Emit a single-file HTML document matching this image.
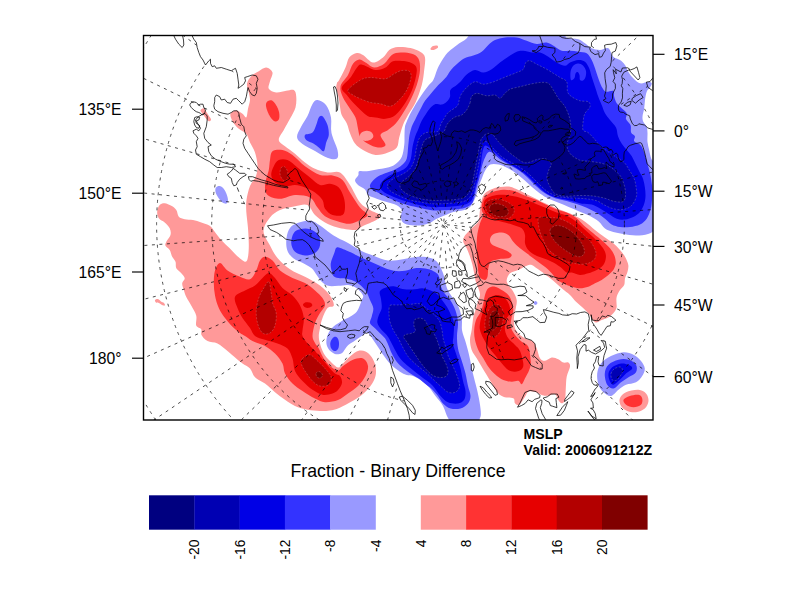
<!DOCTYPE html>
<html><head><meta charset="utf-8"><title>MSLP Fraction - Binary Difference</title>
<style>
html,body{margin:0;padding:0;background:#fff;}
body{width:792px;height:612px;position:relative;overflow:hidden;font-family:"Liberation Sans",sans-serif;}
</style></head><body>
<svg width="792" height="612" viewBox="0 0 792 612" style="position:absolute;left:0;top:0">
<defs><clipPath id="fc"><rect x="143.5" y="35.5" width="509.5" height="384.5"/></clipPath></defs>
<rect x="0" y="0" width="792" height="612" fill="#fff"/>
<g clip-path="url(#fc)">
<g stroke="none">
<path fill="#ff9999" d="M266.2 67.5C268.5 67.7 271.9 70.2 272.5 72.5C273.1 74.8 270.6 78.5 270 81.2C269.4 84 267.7 86.9 268.8 88.8C269.8 90.6 273.3 92.2 276.2 92.5C279.2 92.8 283.3 91.2 286.2 90.8C289.2 90.3 292.1 89.1 293.8 90C295.4 90.9 296 93.3 296.2 96.2C296.5 99.2 296.5 103.8 295.5 107.5C294.5 111.2 292 115 290 118.8C288 122.5 285.6 126.5 283.8 130C281.9 133.5 278.5 137.3 278.8 140C279 142.7 282.3 144 285 146.2C287.7 148.5 291.7 151 295 153.8C298.3 156.5 301.7 160 305 162.5C308.3 165 311.2 167.1 315 168.8C318.8 170.4 323.3 171.9 327.5 172.5C331.7 173.1 336.2 170.4 340 172.5C343.8 174.6 346.7 180 350 185C353.3 190 356.7 198.3 360 202.5C363.3 206.7 366.7 207.9 370 210C373.3 212.1 379 213.3 380 215C381 216.7 379.2 218.1 376.2 220C373.3 221.9 366 224.6 362.5 226.2C359 227.9 359.2 229.8 355 230C350.8 230.2 342.5 228.8 337.5 227.5C332.5 226.2 328.8 224.6 325 222.5C321.2 220.4 317.9 217.9 315 215C312.1 212.1 310.8 206.5 307.5 205C304.2 203.5 299.6 205.4 295 206.2C290.4 207.1 284.2 208.1 280 210C275.8 211.9 272.8 214 270 217.5C267.2 221 263.5 226.3 263.5 231C263.5 235.7 267.7 241 270 245.5C272.3 250 274.2 254 277.5 258C280.8 262 285.4 266.1 290 269.2C294.6 272.4 300 274 305 276.8C310 279.5 315.8 282.4 320 285.5C324.2 288.6 327.7 292.2 330 295.5C332.3 298.8 334.2 303.4 333.8 305.5C333.3 307.6 329.4 305.9 327.5 308C325.6 310.1 323.8 314.7 322.5 318C321.2 321.3 320.6 325 320 328C319.4 331 318.8 333.4 318.8 336C318.8 338.6 319.2 340.6 320 343.5C320.8 346.4 322.1 350.6 323.8 353.5C325.4 356.4 327.6 358.7 330 361C332.4 363.3 335.8 367.1 338 367.5C340.2 367.9 340.9 365.4 343 363.5C345.1 361.6 348 358.1 350.5 356C353 353.9 355.5 351.8 358 351C360.5 350.2 363.2 350.5 365.5 351.5C367.8 352.5 370.1 354.8 371.8 357.2C373.4 359.7 374.9 362.9 375.5 366C376.1 369.1 376.3 372.7 375.5 376C374.7 379.3 373 382.7 370.5 386C368 389.3 364.2 393.1 360.5 396C356.8 398.9 351.8 401.4 348 403.5C344.2 405.6 341 407.3 338 408.5C335 409.7 333 410.1 330 410.5C327 410.9 323.8 411.1 320 411C316.2 410.9 311.7 410.6 307.5 409.8C303.3 408.9 298.8 407.7 295 406C291.2 404.3 288.3 402 285 399.8C281.7 397.5 278.3 395 275 392.2C271.7 389.5 268.3 386 265 383.5C261.7 381 257.5 379.8 255 377.2C252.5 374.8 252.1 370.8 250 368.5C247.9 366.2 244.8 365.2 242.5 363.5C240.2 361.8 238.8 360.6 236.2 358.5C233.8 356.4 230.6 353.5 227.5 351C224.4 348.5 220.8 345.2 217.5 343.5C214.2 341.8 210.2 342.4 207.5 341C204.8 339.6 202.5 337 201.5 335C200.5 333 202.1 330.8 201.2 329.2C200.4 327.7 197.1 327.8 196.2 325.5C195.4 323.2 197.1 318.8 196.2 315.5C195.4 312.2 192.9 308.6 191.2 305.5C189.6 302.4 187.5 299.6 186.3 297C185.1 294.4 184.5 292.3 183.8 290C183.1 287.7 182 285.2 182.2 283.3C182.3 281.4 184.8 280 184.7 278.3C184.5 276.6 182.7 275 181.3 273.3C179.9 271.6 177.3 270.2 176.3 268.3C175.3 266.4 176.2 263.6 175.5 261.7C174.8 259.8 173.2 258.6 172.2 256.7C171.2 254.8 170.8 251.8 169.7 250C168.6 248.2 166.1 247.2 165.5 245.8C164.9 244.4 165.5 243.5 166.3 241.7C167.1 239.9 169.9 237.2 170.5 235C171.1 232.8 170.7 230.4 169.7 228.3C168.7 226.2 166.5 224.2 164.7 222.5C162.9 220.8 160.1 220.1 158.8 218.3C157.6 216.5 157 213.9 157.2 211.7C157.3 209.5 158.4 206.4 159.7 205C160.9 203.6 162.8 203.2 164.7 203.3C166.6 203.4 169.4 204.7 171.3 205.8C173.2 206.9 175.1 208.2 176.3 210C177.6 211.8 177.4 215.2 178.8 216.7C180.2 218.2 182.3 218.6 184.7 219.2C187.1 219.8 190.2 219.4 193 220C195.8 220.6 198.5 221.5 201.3 222.5C204.1 223.5 207.5 224.3 209.7 225.8C211.9 227.3 212.8 229.3 214.7 231.7C216.6 234.1 218.8 237.2 221.3 240C223.8 242.8 226.9 245.5 229.7 248.3C232.5 251.1 235.4 254.5 238 256.7C240.6 258.9 243.8 261.7 245.5 261.7C247.2 261.7 247.4 259.5 248 256.7C248.6 253.9 248.8 249.7 248.8 245C248.8 240.3 248.4 233.9 248 228.3C247.6 222.8 246.6 216.4 246.3 211.7C246.1 207 245.9 204.3 246.5 200C247.1 195.7 248.4 190 250 186C251.6 182 254.8 179.5 256 176C257.2 172.5 257.7 168.9 257.5 165C257.3 161.1 256.2 156.2 255 152.5C253.8 148.8 251.5 145.6 250 142.5C248.5 139.4 248.1 136 246.2 133.8C244.4 131.5 241 130.8 238.8 128.8C236.5 126.7 233.9 123.8 232.5 121.2C231.1 118.8 229.9 115.5 230.5 113.8C231.1 112 234.2 110.5 236.2 110.5C238.2 110.5 240.8 112.6 242.5 113.8C244.2 114.9 245.3 118.3 246.2 117.5C247.2 116.7 247.4 111.7 248 108.8C248.6 105.8 249.9 102.7 250 100C250.1 97.3 249.2 95.2 248.8 92.5C248.2 89.8 246.6 86.5 247 83.8C247.4 81 249.3 78.3 251.2 76.2C253.2 74.2 256.2 72.7 258.8 71.2C261.2 69.8 264 67.3 266.2 67.5Z"/>
<path fill="#ff9999" d="M201.3 109.2C201.9 108.8 203 107.9 203.8 108.3C204.6 108.7 205.5 110.5 206.3 111.7C207.1 113 208 114.5 208.8 115.8C209.6 117 210.8 118.3 211 119.2C211.2 120.1 210.3 121.2 209.7 121.3C209.1 121.4 208 120.8 207.2 120C206.4 119.2 205.5 117.8 204.7 116.7C203.9 115.6 202.9 114.3 202.2 113.3C201.5 112.3 200.7 111.5 200.5 110.8C200.3 110.1 200.8 109.6 201.3 109.2Z"/>
<path fill="#ff9999" d="M339.2 80C340.6 77.4 343.8 71.2 345.5 67.5C347.2 63.8 347.4 59.9 349.2 57.5C351.1 55.1 354.5 53.4 356.8 53C359 52.6 360.3 53.4 363 55C365.7 56.6 369.7 62.1 373 62.5C376.3 62.9 380.3 59.6 383 57.5C385.7 55.4 386.8 51.8 389.2 50C391.8 48.2 394.5 47.3 398 47C401.5 46.7 406.8 47.2 410.5 48C414.2 48.8 418.1 50.4 420.5 52C422.9 53.6 424.4 54.5 425 57.5C425.6 60.5 424.8 65.4 424.2 70C423.7 74.6 423.2 79.6 421.8 85C420.3 90.4 417.8 97.5 415.5 102.5C413.2 107.5 410.1 111.2 408 115C405.9 118.8 404.5 121.2 403 125C401.5 128.8 400.3 133.8 399.2 137.5C398.2 141.2 398.6 145 396.8 147.5C394.9 150 391.5 151.2 388 152.5C384.5 153.8 379.7 155.4 375.5 155C371.3 154.6 366.4 151.9 363 150C359.6 148.1 357.2 146.3 355 143.5C352.8 140.7 351.4 136.7 350 133.3C348.6 129.9 348.1 126.3 346.7 123.3C345.3 120.2 342.8 117.8 341.7 115C340.6 112.2 340.5 109.7 340 106.7C339.5 103.7 339.1 100 338.5 97C337.9 94 336.6 90.8 336.3 88.5C336.1 86.2 336.5 84.4 337 83C337.5 81.6 337.8 82.6 339.2 80Z"/>
<path fill="#ff9999" d="M430.5 48.5C430.8 47.8 431.9 46.5 433 46C434.1 45.5 436.2 45.2 437 45.5C437.8 45.8 438.3 46.8 438 47.5C437.7 48.2 436.1 49.1 435 49.5C433.9 49.9 432.2 50.2 431.5 50C430.8 49.8 430.2 49.2 430.5 48.5Z"/>
<path fill="#ff9999" d="M464.2 236.7C465 235 466.8 233.4 468.3 231.7C469.8 230 471.6 228.4 473.3 226.7C475 225 477.3 223.1 478.3 221.7C479.3 220.3 478.9 220.2 479.2 218.3C479.5 216.4 479.6 213.1 480 210C480.4 206.9 480.9 202.8 481.7 200C482.5 197.2 483.3 195.1 485 193.3C486.7 191.5 489.2 190.2 491.7 189.2C494.2 188.1 496.9 187.4 500 187C503.1 186.6 506.9 186.2 510 186.7C513 187.2 515.5 188.8 518.3 190C521.1 191.2 523.9 192.8 526.7 194.2C529.5 195.6 532.2 196.9 535 198.3C537.8 199.7 540.2 201.1 543.3 202.5C546.3 203.9 550.2 205.4 553.3 206.7C556.4 208 558.4 208.9 561.7 210.3C565 211.7 569.4 213.1 573.3 215C577.2 216.9 581.4 219.2 585 221.7C588.6 224.2 591.7 227.4 595 230C598.3 232.6 602 235.3 605 237.5C608 239.7 610.8 241.2 613.3 243.3C615.8 245.4 618 247.8 620 250C622 252.2 623.6 254.2 625 256.7C626.4 259.2 627.9 262.5 628.3 265C628.7 267.5 628 269.5 627.5 271.7C627 273.9 625.5 276.1 625 278.3C624.5 280.5 625 283.1 624.2 285C623.4 286.9 621.2 288.1 620 290C618.8 291.9 617.3 294.5 616.7 296.7C616.1 298.9 616.5 301.1 616.5 303C616.5 304.9 617 306.3 616.5 308C616 309.7 614.7 311.7 613.3 313.3C611.9 314.9 610.2 316.4 608.3 317.5C606.4 318.6 603.8 319.2 601.7 320C599.6 320.8 597.5 322.8 595.8 322.5C594.1 322.2 593 319.8 591.7 318.3C590.5 316.8 590 315.2 588.3 313.3C586.6 311.4 583.8 308.6 581.7 306.7C579.7 304.8 578 303.6 576 301.7C574 299.8 572.4 297.2 570 295C567.6 292.8 564.5 290.7 561.7 288.3C558.9 285.9 556.1 283.2 553.3 280.8C550.5 278.4 547.8 276.3 545 274.2C542.2 272.1 538.9 269.8 536.7 268.3C534.5 266.8 533.4 265.4 531.7 265C530 264.6 528.9 265 526.7 265.8C524.5 266.6 521.1 268.8 518.3 270C515.5 271.2 511.9 271.6 510 273.3C508.1 275 507 278.1 506.7 280C506.4 281.9 507.2 283.1 508.3 285C509.4 286.9 511.9 289.2 513.3 291.7C514.7 294.2 516.3 297.2 516.7 300C517.1 302.8 516.2 305.5 515.8 308.3C515.3 311.1 514.2 313.9 514 317C513.8 320.1 513.8 324 514.5 326.7C515.2 329.4 516.5 331.4 518.3 333.3C520 335.2 522.5 336.9 525 338.3C527.5 339.7 531.3 340 533.3 341.7C535.2 343.4 535.6 345.5 536.7 348.3C537.8 351.1 538.6 356.2 540 358.3C541.4 360.4 543 360.9 545 360.8C547 360.7 549.5 357.8 551.7 357.5C553.9 357.2 556.4 358.4 558.3 359.2C560.2 360 561.6 361.9 563.3 362.5C565 363.1 567.2 361.8 568.3 362.5C569.4 363.2 570.3 364.3 570 366.7C569.7 369.1 567.4 373.1 566.7 376.7C566 380.3 566.1 384.4 565.8 388.3C565.5 392.2 565.7 397.5 565 400C564.3 402.5 562.8 403.3 561.7 403.3C560.6 403.3 559.4 401.5 558.3 400C557.2 398.5 556.7 394.9 555 394.2C553.3 393.5 550.5 395.7 548.3 395.8C546.1 395.9 543.9 395.7 541.7 395C539.5 394.3 537.2 392.2 535 391.7C532.8 391.1 530 390.9 528.3 391.7C526.6 392.5 526.5 394.5 525 396.7C523.5 398.9 520.9 403.9 519.2 405C517.5 406.1 516 404.4 515 403.3C514 402.2 515.2 399.4 513.3 398.3C511.3 397.2 506.1 397.8 503.3 396.7C500.5 395.6 498.6 393.9 496.7 391.7C494.8 389.5 493.4 386.1 491.7 383.3C490 380.5 488.4 377.8 486.7 375C485 372.2 483.4 369.5 481.7 366.7C480 363.9 478.4 361.1 476.7 358.3C475 355.5 472.8 353.1 471.7 350C470.6 346.9 470 343.3 470 340C470 336.7 471.1 333.8 471.7 330C472.2 326.2 472.8 320.1 473.3 317C473.9 313.9 474.3 314 475 311.7C475.7 309.4 476.7 306.1 477.5 303.3C478.3 300.5 479.9 297.5 480 295C480.1 292.5 479 290.5 478.3 288.3C477.6 286.1 476.5 284.2 475.8 281.7C475.1 279.2 474.8 276.1 474.2 273.3C473.6 270.5 473.2 267.8 472.5 265C471.8 262.2 471 259.5 470 256.7C469 253.9 467.8 250.8 466.7 248.3C465.6 245.8 463.7 243.6 463.3 241.7C462.9 239.8 463.4 238.4 464.2 236.7Z"/>
<path fill="#ff9999" d="M619.8 398.5C620.6 396.2 622.9 393.7 626 392.2C629.1 390.8 635.2 389.5 638.5 389.8C641.8 390 644.3 391.6 646 393.5C647.7 395.4 648.7 398.5 648.5 401C648.3 403.5 646.8 406.6 644.8 408.5C642.7 410.4 638.9 411.8 636 412.2C633.1 412.7 629.8 412 627.2 411C624.8 410 622.2 408.1 621 406C619.8 403.9 618.9 400.8 619.8 398.5Z"/>
<path fill="#ff9999" d="M155 300C155.3 299.4 157 298.8 158 299C159 299.2 160 300.8 161 301.5C162 302.2 163.3 302.3 164 303C164.7 303.7 165.3 305.2 165 305.5C164.7 305.8 163 305.4 162 305C161 304.6 160 303.4 159 303C158 302.6 156.7 303 156 302.5C155.3 302 154.7 300.6 155 300Z"/>
<path fill="#ff3333" d="M268 101C269 100.4 270.7 99.8 272 100.5C273.3 101.2 274.8 103.1 276 105C277.2 106.9 278.5 109.7 279 112C279.5 114.3 279.6 117.4 279 119C278.4 120.6 276.8 121.7 275.5 121.5C274.2 121.3 272.4 119.9 271 118C269.6 116.1 267.8 112.3 267 110C266.2 107.7 265.8 105.5 266 104C266.2 102.5 267 101.6 268 101Z"/>
<path fill="#ff3333" d="M272.5 151.2C274.6 149.6 279.2 149.4 282.5 150C285.8 150.6 288.8 152.3 292.5 155C296.2 157.7 300.4 162.9 305 166.2C309.6 169.6 315.4 173.5 320 175C324.6 176.5 328.8 174.7 332.5 175.5C336.2 176.3 339.6 177.2 342.5 180C345.4 182.8 347.1 187.9 350 192.5C352.9 197.1 357.1 203.8 360 207.5C362.9 211.2 367.5 212.9 367.5 215C367.5 217.1 362.9 218.5 360 220C357.1 221.5 353.8 223.5 350 223.8C346.2 224 341.7 222.5 337.5 221.2C333.3 220 328.3 218.5 325 216.2C321.7 214 320 210.6 317.5 207.5C315 204.4 313.8 199.6 310 197.5C306.2 195.4 300 194.8 295 195C290 195.2 284.6 198.8 280 198.8C275.4 198.8 270 197.3 267.5 195C265 192.7 264.8 189.2 265 185C265.2 180.8 267.9 174.2 268.8 170C269.6 165.8 269.4 163.1 270 160C270.6 156.9 270.4 152.9 272.5 151.2Z"/>
<path fill="#ff3333" d="M340.5 86.2C341.3 82.5 345.9 78.8 348 75C350.1 71.2 351.1 66.3 353 63.8C354.9 61.2 357.2 59.7 359.2 59.5C361.3 59.3 363 61.2 365.5 62.5C368 63.8 371.1 67.3 374.2 67.5C377.4 67.7 381.3 65.8 384.2 63.8C387.2 61.7 389 56.9 391.8 55C394.5 53.1 397.2 52.7 400.5 52.5C403.8 52.3 408.8 52.7 411.8 53.8C414.8 54.8 417.1 56 418.5 58.8C419.9 61.5 420.3 65.6 420 70C419.7 74.4 418.5 79.6 416.8 85C415 90.4 411.8 97.5 409.2 102.5C406.8 107.5 404 111.5 401.8 115C399.5 118.5 397.8 121.2 395.5 123.8C393.2 126.2 390.5 128.1 388 130C385.5 131.9 380.9 132.5 380.5 135C380.1 137.5 385.9 142.9 385.5 145C385.1 147.1 380.9 147.7 378 147.5C375.1 147.3 370.9 145.4 368 143.8C365.1 142.1 362.2 140 360.5 137.5C358.8 135 358.8 132.1 358 128.8C357.2 125.4 357 121 355.5 117.5C354 114 351.3 110.8 349.2 107.5C347.2 104.2 344.5 101 343 97.5C341.5 94 339.7 90 340.5 86.2Z"/>
<path fill="#ff9999" d="M360.8 133.3C361.9 132.1 364.9 130.9 366.7 130.8C368.5 130.7 370.6 131.5 371.7 132.5C372.8 133.5 373.6 135.4 373.3 136.7C373 137.9 371.5 139.3 370 140C368.5 140.7 365.9 141.1 364.2 140.8C362.5 140.5 360.6 139.6 360 138.3C359.4 137.1 359.7 134.6 360.8 133.3Z"/>
<path fill="#ff3333" d="M220 263C222.1 263 224.2 268.2 227.5 270.5C230.8 272.8 236.2 275.3 240 276.8C243.8 278.2 247.3 280.3 250 279.2C252.7 278.2 254.6 273.6 256.2 270.5C257.9 267.4 258.5 262.8 260 260.5C261.5 258.2 262.9 256.8 265 256.8C267.1 256.8 270 258.2 272.5 260.5C275 262.8 276.7 267.6 280 270.5C283.3 273.4 288.3 275.9 292.5 278C296.7 280.1 301.2 280.9 305 283C308.8 285.1 312.1 288 315 290.5C317.9 293 320.8 295.5 322.5 298C324.2 300.5 325.4 303 325 305.5C324.6 308 321.7 310.1 320 313C318.3 315.9 316.2 319.2 315 323C313.8 326.8 312.5 332.7 312.5 336C312.5 339.3 314 340.9 315 343C316 345.1 317.3 345.9 318.8 348.5C320.2 351.1 321.9 355.6 323.8 358.5C325.6 361.4 327.6 364 330 366C332.4 368 335.8 370.5 338 370.5C340.2 370.5 340.5 367.8 343 366C345.5 364.2 349.7 361 353 359.8C356.3 358.5 360.5 357.5 363 358.5C365.5 359.5 367.6 363.1 368 366C368.4 368.9 367.2 372.7 365.5 376C363.8 379.3 360.9 383.1 358 386C355.1 388.9 351.3 391.2 348 393.5C344.7 395.8 341.8 398.5 338 400C334.2 401.5 328.8 402.5 325 402.2C321.2 402 318.8 400.4 315 398.5C311.2 396.6 306.2 393.5 302.5 391C298.8 388.5 295.4 386.4 292.5 383.5C289.6 380.6 286.7 376.8 285 373.5C283.3 370.2 284.2 366.8 282.5 363.5C280.8 360.2 277.9 356.4 275 353.5C272.1 350.6 268.8 348.1 265 346C261.2 343.9 255.8 342.7 252.5 341C249.2 339.3 247.1 337.3 245 336C242.9 334.7 242.1 334.5 240 333C237.9 331.5 235 329.2 232.5 326.8C230 324.2 227.3 321.1 225 318C222.7 314.9 220.4 311.8 218.8 308C217.1 304.2 215.8 299.7 215 295.5C214.2 291.3 213.8 287.2 213.8 283C213.8 278.8 214 273.8 215 270.5C216 267.2 217.9 263 220 263Z"/>
<path fill="#ff3333" d="M482.5 201.7C483.2 199.3 484 197.5 485.8 195.8C487.6 194.1 490.4 192.7 493.3 191.7C496.2 190.7 500 189.8 503.3 189.7C506.6 189.5 510.2 190.1 513.3 190.8C516.4 191.6 518.9 193.1 521.7 194.2C524.5 195.3 527.2 196.4 530 197.5C532.8 198.6 535.2 199.4 538.3 200.8C541.3 202.2 545 204.3 548.3 205.8C551.6 207.3 555 208.8 558.3 210C561.6 211.2 565.2 211.9 568.3 213.3C571.4 214.7 574.2 216.4 576.7 218.3C579.2 220.2 580.5 222.5 583.3 225C586.1 227.5 590 230.5 593.3 233.3C596.6 236.1 600.5 239.2 603.3 241.7C606.1 244.2 608.2 246.1 610 248.3C611.8 250.5 613.2 252.5 614.2 255C615.2 257.5 615.9 260.8 615.8 263.3C615.6 265.8 614.5 268.1 613.3 270C612 271.9 610.2 273.3 608.3 275C606.4 276.7 603.9 278.6 601.7 280C599.5 281.4 597.2 282.2 595 283.3C592.8 284.4 590.8 285.9 588.3 286.7C585.8 287.5 582.8 288.3 580 288.3C577.2 288.3 574.5 287.5 571.7 286.7C568.9 285.9 565.8 284.6 563.3 283.3C560.8 282.1 558.6 280.9 556.7 279.2C554.8 277.5 553.4 275.1 551.7 273.3C550 271.5 548.7 270 546.7 268.3C544.8 266.6 542.2 265 540 263.3C537.8 261.6 535.5 260 533.3 258.3C531.1 256.6 528.9 255 526.7 253.3C524.5 251.6 522.2 250.2 520 248.3C517.8 246.4 515.2 243.9 513.3 241.7C511.3 239.5 510.2 236.5 508.3 235C506.4 233.5 504.2 232.6 501.7 232.5C499.2 232.4 495.2 233.1 493.3 234.2C491.4 235.3 490.3 237.5 490 239.2C489.7 240.9 490.3 242.8 491.7 244.2C493.1 245.6 495.8 246.4 498.3 247.5C500.8 248.6 504.5 249.6 506.7 250.8C508.9 252.1 511.4 253.8 511.7 255C512 256.2 510.5 257.6 508.3 258.3C506.1 259 501.2 258.6 498.3 259.2C495.4 259.8 492.5 260.2 490.8 261.7C489.1 263.2 488.9 265.8 488.3 268.3C487.8 270.8 488.1 274.8 487.5 276.7C486.9 278.6 486.2 279.9 485 280C483.8 280.1 481.1 278.9 480 277.5C478.9 276.1 478.7 274.1 478.3 271.7C477.9 269.3 477.8 266.4 477.5 263.3C477.2 260.2 476.8 256.6 476.7 253.3C476.6 250 476.6 246.6 476.7 243.3C476.8 240 476.9 236.6 477.5 233.3C478.1 230 479 226.4 480 223.3C481 220.2 483 217.2 483.3 215C483.6 212.8 481.8 212.2 481.7 210C481.6 207.8 481.8 204.1 482.5 201.7Z"/>
<path fill="#ff3333" d="M488.3 288.3C490 286.9 492.8 286.4 495 286.7C497.2 287 499.5 288.6 501.7 290C503.9 291.4 506.6 293.1 508.3 295C510 296.9 510.9 299.2 511.7 301.7C512.5 304.2 513.3 307.3 513.3 310C513.3 312.7 511.9 315.2 511.5 318C511.1 320.8 510.2 323.9 510.8 326.7C511.4 329.5 513.2 332.5 515 335C516.8 337.5 519.5 339.8 521.7 341.7C523.9 343.6 526.8 343.4 528.3 346.7C529.8 350 530.6 357.8 530.8 361.7C530.9 365.6 530.2 367.2 529.2 370C528.2 372.8 526.2 375.9 525 378.3C523.8 380.7 522.8 383.8 521.7 384.2C520.6 384.6 520 381.2 518.3 380.8C516.6 380.4 514.2 381.8 511.7 381.7C509.2 381.6 506.1 381.2 503.3 380C500.5 378.8 497.5 376.4 495 374.2C492.5 372 490.2 369.3 488.3 366.7C486.4 364.1 485 361.1 483.3 358.3C481.6 355.5 479.7 353.1 478.3 350C476.9 346.9 475.7 343.3 475 340C474.3 336.7 474 333.3 474.2 330C474.4 326.7 474.9 323.1 476 320C477.1 316.9 479.6 314.5 480.8 311.7C482 308.9 482.6 306.1 483.3 303.3C484 300.5 484.2 297.5 485 295C485.8 292.5 486.6 289.7 488.3 288.3Z"/>
<path fill="#ff3333" d="M623.5 399.8C624.1 398.3 627.2 396.8 629.8 396C632.2 395.2 636.4 394.3 638.5 394.8C640.6 395.2 641.8 396.8 642.2 398.5C642.7 400.2 642.5 403.3 641 404.8C639.5 406.2 636 407.2 633.5 407.2C631 407.2 627.7 406 626 404.8C624.3 403.5 622.9 401.2 623.5 399.8Z"/>
<path fill="#e60000" d="M278.8 160C281 159 284.4 158.8 287.5 160C290.6 161.2 293.8 164.6 297.5 167.5C301.2 170.4 306.2 174.6 310 177.5C313.8 180.4 316.7 184 320 185C323.3 186 326.9 183.3 330 183.8C333.1 184.2 336.5 185.2 338.8 187.5C341 189.8 342.7 194.2 343.8 197.5C344.8 200.8 345.2 204.6 345 207.5C344.8 210.4 344.6 213.8 342.5 215C340.4 216.2 335.4 216 332.5 215C329.6 214 326.7 211.2 325 208.8C323.3 206.2 324.2 202.7 322.5 200C320.8 197.3 317.9 194.6 315 192.5C312.1 190.4 308.3 188.8 305 187.5C301.7 186.2 298.3 185.2 295 185C291.7 184.8 288.3 186.7 285 186.2C281.7 185.8 277.3 184.4 275 182.5C272.7 180.6 271.5 177.7 271.2 175C271 172.3 272.5 168.8 273.8 166.2C275 163.8 276.5 161 278.8 160Z"/>
<path fill="#e60000" d="M341.8 87.5C342.4 84.6 347.8 81 350.5 77.5C353.2 74 355.9 68.3 358 66.2C360.1 64.2 360.1 64.4 363 65C365.9 65.6 371.8 69.6 375.5 70C379.2 70.4 382.6 69 385.5 67.5C388.4 66 389.7 62.3 393 61.2C396.3 60.2 402.2 60.8 405.5 61.2C408.8 61.7 411.1 62.3 413 63.8C414.9 65.2 416.8 66 416.8 70C416.8 74 414.9 82.1 413 87.5C411.1 92.9 408.4 97.9 405.5 102.5C402.6 107.1 398.8 112.3 395.5 115C392.2 117.7 388.8 118.3 385.5 118.8C382.2 119.2 378.4 117.9 375.5 117.5C372.6 117.1 370.5 117.5 368 116.2C365.5 115 363 112.3 360.5 110C358 107.7 355.3 105 353 102.5C350.7 100 348.6 97.5 346.8 95C344.9 92.5 341.1 90.4 341.8 87.5Z"/>
<path fill="#e60000" d="M235 296.8C236.2 293.8 241.7 292.4 245 290.5C248.3 288.6 252.1 287.6 255 285.5C257.9 283.4 260.2 280.1 262.5 278C264.8 275.9 266.7 273 268.8 273C270.8 273 272.7 275.5 275 278C277.3 280.5 279.6 285.1 282.5 288C285.4 290.9 289.6 292.6 292.5 295.5C295.4 298.4 298.1 301.8 300 305.5C301.9 309.2 303.3 313.8 303.8 318C304.2 322.2 302.7 327.5 302.5 330.5C302.3 333.5 301.7 333.8 302.5 336C303.3 338.2 305.4 341 307.5 343.5C309.6 346 312.3 348.1 315 351C317.7 353.9 321.2 358.1 323.8 361C326.2 363.9 328.1 366.4 330 368.5C331.9 370.6 333.3 372.2 335 373.5C336.7 374.8 338.8 374.4 340 376C341.2 377.6 342.3 380.7 342 383C341.7 385.3 339.6 388.2 338 390C336.4 391.8 335.1 392.7 332.5 393.5C329.9 394.3 325.8 395.4 322.5 394.8C319.2 394.1 315.8 392 312.5 389.8C309.2 387.5 305.4 384.1 302.5 381C299.6 377.9 296.7 374.8 295 371C293.3 367.2 293.8 362.2 292.5 358.5C291.2 354.8 290 351 287.5 348.5C285 346 281.2 345 277.5 343.5C273.8 342 268.8 341 265 339.8C261.2 338.5 257.5 338 255 336C252.5 334 252.1 331 250 328C247.9 325 244.6 321.3 242.5 318C240.4 314.7 238.8 311.5 237.5 308C236.2 304.5 233.8 299.7 235 296.8Z"/>
<path fill="#e60000" d="M303 304.5C303.2 303.7 304.8 302.6 306 302.3C307.2 302 309.4 302.3 310.5 302.8C311.6 303.3 312.6 304.7 312.3 305.5C312.1 306.3 310.2 307.5 309 307.8C307.8 308.1 306 307.9 305 307.3C304 306.8 302.8 305.3 303 304.5Z"/>
<path fill="#e60000" d="M484.2 201.7C484.9 199.6 486.2 198.6 488.3 197.5C490.4 196.4 493.6 195.4 496.7 195C499.8 194.6 503.4 194.7 506.7 195C510 195.3 513.4 195.9 516.7 196.7C520 197.5 523.4 198.8 526.7 200C530 201.2 533.4 202.8 536.7 204.2C540 205.6 543.4 206.9 546.7 208.3C550 209.7 553.4 211.2 556.7 212.5C560 213.8 563.7 214.4 566.7 215.8C569.8 217.2 572.2 218.7 575 220.8C577.8 222.9 580.5 225.8 583.3 228.3C586.1 230.8 588.9 233.2 591.7 235.8C594.5 238.5 597.8 241.5 600 244.2C602.2 246.8 604 249.3 605 251.7C606 254 606.1 256.1 605.8 258.3C605.5 260.5 604.8 263.1 603.3 265C601.8 266.9 599.2 268.6 596.7 270C594.2 271.4 591.1 272.5 588.3 273.3C585.5 274.1 582.8 275.1 580 275C577.2 274.9 573.9 272.9 571.7 272.5C569.5 272.1 568.7 273.5 566.7 272.5C564.8 271.5 562.5 268.5 560 266.7C557.5 264.9 554.5 263.1 551.7 261.7C548.9 260.3 546.1 259.4 543.3 258.3C540.5 257.2 537.5 256.4 535 255C532.5 253.6 530 251.9 528.3 250C526.6 248.1 525.5 245.8 525 243.3C524.5 240.8 525.5 237.5 525 235C524.5 232.5 523.7 230 521.7 228.3C519.8 226.6 516.1 226 513.3 225C510.5 224 508.1 223.3 505 222.5C501.9 221.7 497.9 221.1 495 220C492.1 218.9 489.3 217.5 487.5 215.8C485.7 214.1 484.8 212.3 484.2 210C483.6 207.7 483.5 203.8 484.2 201.7Z"/>
<path fill="#e60000" d="M491.7 296.7C493.8 295.3 496.1 294.7 498.3 295C500.5 295.3 503.2 296.6 505 298.3C506.8 300 508.4 302.6 509.2 305C510 307.4 510.6 310.5 510 313C509.4 315.5 506.6 317.2 505.8 320C505 322.8 504.6 326.9 505 330C505.4 333.1 506.6 335.8 508.3 338.3C510 340.8 513 342.9 515 345C517 347.1 518.6 347.9 520 351C521.4 354.1 523 360.3 523.3 363.3C523.6 366.3 523.1 367.8 521.7 369.2C520.3 370.6 517.2 371.6 515 371.7C512.8 371.8 510.5 371.4 508.3 370C506.1 368.6 503.9 365.8 501.7 363.3C499.5 360.8 497.2 357.8 495 355C492.8 352.2 490.2 349.5 488.3 346.7C486.4 343.9 484.7 341.1 483.3 338.3C481.9 335.5 480.6 332.5 480 330C479.4 327.5 479.6 326.1 480 323.3C480.4 320.5 481.5 316.6 482.5 313.3C483.5 310 484.3 306.1 485.8 303.3C487.3 300.5 489.6 298.1 491.7 296.7Z"/>
<path fill="#b30000" d="M281 168C281.7 166.8 283 166.2 284 166.5C285 166.8 286.3 168.4 287 170C287.7 171.6 288.2 174.2 288 176C287.8 177.8 286.9 179.9 286 180.5C285.1 181.1 283.5 180.6 282.5 179.5C281.5 178.4 280.2 175.9 280 174C279.8 172.1 280.3 169.2 281 168Z"/>
<path fill="#b30000" d="M348 90C349.2 87.5 356.8 82.1 360.5 80C364.2 77.9 366.3 77.7 370.5 77.5C374.7 77.3 381.5 79.4 385.5 78.8C389.5 78.1 391.5 75.1 394.2 73.8C397 72.4 399.2 70.9 401.8 70.5C404.2 70.1 407.7 70.1 409.2 71.2C410.8 72.4 411.4 74.4 411 77.5C410.6 80.6 408.7 86.2 406.8 90C404.8 93.8 402 97.3 399.2 100C396.5 102.7 393.6 105.6 390.5 106.2C387.4 106.9 383.8 104.4 380.5 103.8C377.2 103.1 373.8 103.3 370.5 102.5C367.2 101.7 363.4 100 360.5 98.8C357.6 97.5 355.1 96.5 353 95C350.9 93.5 346.8 92.5 348 90Z"/>
<path fill="#b30000" d="M268.8 281.8C270 282.6 270.6 289.5 271.2 293C271.9 296.5 271.7 299.7 272.5 303C273.3 306.3 275.8 309.2 276.2 313C276.7 316.8 276 322.2 275 325.5C274 328.8 272.1 331.8 270 333C267.9 334.2 264.6 334.7 262.5 333C260.4 331.3 258.5 326.8 257.5 323C256.5 319.2 256 314.7 256.2 310.5C256.5 306.3 257.5 301.8 258.8 298C260 294.2 262.1 290.7 263.8 288C265.4 285.3 267.5 280.9 268.8 281.8Z"/>
<path fill="#b30000" d="M302.5 358.5C304 357 307.5 354.3 310 354.8C312.5 355.2 315 358.7 317.5 361C320 363.3 322.7 365.8 325 368.5C327.3 371.2 330.6 374.5 331.2 377.2C331.9 380 330.6 383.3 328.8 384.8C326.9 386.2 322.7 386.6 320 386C317.3 385.4 315 383.5 312.5 381C310 378.5 306.9 373.9 305 371C303.1 368.1 301.7 365.6 301.2 363.5C300.8 361.4 301 360 302.5 358.5Z"/>
<path fill="#b30000" d="M485.8 203.3C486.6 202.1 487.9 200.7 490 200C492.1 199.3 495.5 198.9 498.3 199.2C501.1 199.5 504.3 200.6 506.7 201.7C509.1 202.8 511.2 204.1 512.5 205.8C513.8 207.5 514.6 209.8 514.2 211.7C513.8 213.6 512.1 216.2 510 217.5C507.9 218.8 504.5 219.2 501.7 219.2C498.9 219.2 495.7 218.6 493.3 217.5C490.9 216.4 488.8 214.2 487.5 212.5C486.2 210.8 485.8 209 485.5 207.5C485.2 206 485.1 204.6 485.8 203.3Z"/>
<path fill="#b30000" d="M539.2 217.5C540.9 216.5 545.1 217.4 548.3 217.5C551.5 217.6 555 217.5 558.3 218.3C561.6 219.1 565.2 220.8 568.3 222.5C571.4 224.2 573.9 226.1 576.7 228.3C579.5 230.5 582.5 233.3 585 235.8C587.5 238.3 589.9 240.7 591.7 243.3C593.5 246 595.2 249.2 595.8 251.7C596.3 254.2 596 256.5 595 258.3C594 260.1 592 261.5 590 262.5C588 263.5 585.8 264 583.3 264.2C580.8 264.4 577.5 263.9 575 263.5C572.5 263.1 570.2 262.6 568.3 262C566.3 261.4 565.5 261.2 563.3 260C561.1 258.8 557.6 256.9 555 255C552.4 253.1 549.5 250.8 547.5 248.3C545.5 245.8 544.5 242.8 543.3 240C542 237.2 540.8 234.5 540 231.7C539.2 228.9 538.4 225.7 538.3 223.3C538.2 220.9 537.5 218.5 539.2 217.5Z"/>
<path fill="#b30000" d="M493.3 305C495.1 304.4 498.3 304.4 500 305.8C501.7 307.2 502.9 310.4 503.3 313.3C503.7 316.2 503.1 320.2 502.5 323.3C501.9 326.4 501.2 329.5 500 331.7C498.8 333.9 496.9 336.1 495 336.7C493.1 337.2 490 336.7 488.3 335C486.6 333.3 485.4 329.8 485 326.7C484.6 323.6 485.1 319.6 485.8 316.7C486.5 313.8 487.9 311.1 489.2 309.2C490.4 307.2 491.5 305.6 493.3 305Z"/>
<path fill="#800000" d="M316 373.5C316.2 372.6 317.6 371.6 318.5 371.5C319.4 371.4 320.8 372.2 321.5 373C322.2 373.8 322.8 375.2 322.5 376C322.2 376.8 320.9 377.8 320 378C319.1 378.2 317.7 377.8 317 377C316.3 376.2 315.8 374.4 316 373.5Z"/>
<path fill="#800000" d="M489.5 207C489.9 205.8 491.4 204.5 493 204C494.6 203.5 497 203.6 499 204C501 204.4 503.4 205.3 505 206.5C506.6 207.7 508.1 209.5 508.3 211C508.6 212.5 507.9 214.6 506.5 215.5C505.1 216.4 502.1 216.8 500 216.7C497.9 216.6 495.6 215.9 494 215C492.4 214.1 491.2 212.8 490.5 211.5C489.8 210.2 489.1 208.2 489.5 207Z"/>
<path fill="#800000" d="M550 230C550.5 228.2 552.8 226.4 555 225.8C557.2 225.2 560.5 225.7 563.3 226.7C566.1 227.7 569.2 229.8 571.7 231.7C574.2 233.6 576.4 235.8 578.3 238.3C580.2 240.8 582.3 244.2 583.3 246.7C584.3 249.2 584.8 251.6 584.2 253.3C583.7 255 581.8 256.4 580 256.7C578.2 257 575.8 256.1 573.3 255C570.8 253.9 567.8 251.9 565 250C562.2 248.1 558.9 245.5 556.7 243.3C554.5 241.1 552.8 238.9 551.7 236.7C550.6 234.5 549.5 231.8 550 230Z"/>
<path fill="#800000" d="M492.5 311.7C493.8 310.9 496.4 310.6 497.5 311.7C498.6 312.8 499.3 315.8 499.2 318.3C499.1 320.8 497.8 324.8 496.7 326.7C495.6 328.6 493.8 330.3 492.5 330C491.2 329.7 489.6 327.2 489.2 325C488.8 322.8 489.4 318.9 490 316.7C490.6 314.5 491.2 312.5 492.5 311.7Z"/>
<path fill="#9999ff" d="M475 30C480.7 28.2 490.8 28.3 500 28C509.2 27.7 520 27.7 530 28C540 28.3 553.9 28.4 560 30C566.1 31.6 563.7 36 566.7 37.5C569.8 39 575.2 38.2 578.3 39.2C581.3 40.2 582.8 41.8 585 43.3C587.2 44.8 589.2 47.2 591.7 48.3C594.2 49.4 597.2 50 600 50C602.8 50 606.1 47.2 608.3 48.3C610.5 49.4 611.3 54.8 613.3 56.7C615.2 58.7 618 58.6 620 60C622 61.4 623.6 63 625 65C626.4 67 626.9 69.5 628.3 71.7C629.7 73.9 631.3 76.4 633.3 78.3C635.2 80.2 637.5 82.7 640 83.3C642.5 83.9 646.3 81.7 648.3 81.7C650.2 81.7 651.4 82.3 651.7 83.3C652 84.3 650.8 86.1 650 87.5C649.2 88.9 647.5 89.6 646.7 91.7C645.9 93.8 645.4 97.2 645 100C644.6 102.8 644.6 105.5 644.2 108.3C643.8 111.1 642.6 114.5 642.5 116.7C642.4 118.9 642.6 120 643.3 121.7C644 123.4 646 124.8 646.7 126.7C647.4 128.6 647.4 130.4 647.5 133C647.6 135.6 647.2 139.1 647.5 142C647.8 144.9 648.6 147.5 649.2 150.3C649.8 153.1 650.3 156.2 651.3 158.7C652.3 161.2 653.5 160.1 655 165.3C656.5 170.5 659.2 181.7 660 190C660.8 198.3 660.8 208.5 660 215C659.2 221.5 657 225.8 655 229C653 232.2 651.2 232.9 648 234C644.8 235.1 640.1 235.5 636 235.5C631.9 235.5 627.1 234.6 623.3 234C619.5 233.4 616.3 232.9 613.3 232C610.2 231.1 607.4 230.2 605 228.5C602.6 226.8 601.4 223.7 598.7 221.5C596 219.3 592 217 588.7 215.3C585.4 213.6 582 212.6 578.7 211.2C575.4 209.8 572 208.4 568.7 207C565.4 205.6 562 204.2 558.7 202.8C555.4 201.4 551.8 200.2 548.7 198.7C545.6 197.2 543.1 195.6 540.3 193.7C537.5 191.8 534.8 189.4 532 187C529.2 184.6 526.5 181.9 523.7 179.5C520.9 177.1 518.1 174.8 515.3 172.8C512.5 170.9 509.8 169.2 507 167.8C504.2 166.4 501.5 165.1 498.7 164.5C495.9 163.9 492.5 163.5 490.3 164.5C488.1 165.5 486.7 168.1 485.3 170.3C483.9 172.6 483 175.5 482 178C481 180.5 480.1 182.7 479.2 185.3C478.3 187.9 477.5 191.2 476.7 193.7C475.9 196.2 475.3 198.1 474.2 200.3C473.1 202.5 471.8 205.3 470 207C468.2 208.7 466.1 209.5 463.3 210.3C460.5 211.1 456.4 211.2 453.3 212C450.2 212.8 447.8 214.2 445 215.3C442.2 216.4 439.2 217.4 436.7 218.7C434.2 219.9 432.5 221.7 430 222.8C427.5 223.9 424.8 224.9 421.7 225.3C418.6 225.7 414.8 225.7 411.7 225.3C408.6 224.9 405.1 224.2 403.3 222.8C401.5 221.4 401.1 219.1 400.8 217C400.5 214.9 402.4 212.2 401.7 210.3C401 208.4 399.2 206.7 396.7 205.3C394.2 203.9 390 203.1 386.7 202C383.4 200.9 379.8 199.8 376.7 198.7C373.6 197.6 370.2 196.8 368.3 195.3C366.4 193.8 366.7 191.2 365 189.5C363.3 187.8 360 186.8 358.3 185.3C356.6 183.8 355 182 355 180.3C355 178.6 357.6 176.8 358.3 175.3C359 173.8 357.8 171.9 359.2 171.2C360.6 170.5 363.8 171.5 366.7 171.2C369.6 170.9 373.4 170.1 376.7 169.5C380 168.9 383.6 168.6 386.7 167.8C389.8 167 392.5 166.3 395 164.5C397.5 162.7 400.2 160.2 401.7 157C403.2 153.8 403.7 149 404.2 145.3C404.7 141.6 404.4 138.1 404.5 135C404.6 131.9 404.6 128.9 405 126.7C405.4 124.5 405.9 123.8 406.7 121.7C407.5 119.6 408.8 116.7 410 114.2C411.2 111.7 412.8 109.1 414.2 106.7C415.6 104.3 416.8 102.4 418.3 100C419.8 97.6 421.6 94.9 423.3 92.5C425 90.1 426.6 87.9 428.3 85.8C430 83.7 431.9 82.6 433.3 80C434.8 77.4 435.7 73 437 70C438.3 67 439.5 64.6 441 62C442.5 59.4 444.1 56.8 446 54.5C447.9 52.2 450.3 50.3 452.5 48.5C454.7 46.7 456.8 45.1 459 43.5C461.2 41.9 463.3 41.2 466 39C468.7 36.8 469.3 31.8 475 30Z"/>
<path fill="#9999ff" d="M317.5 100C319.8 100.2 323.8 102.1 326 105C328.2 107.9 330.1 112.8 331 117.5C331.9 122.2 330.4 127.6 331.5 133C332.6 138.4 336.6 145.8 337.5 150C338.4 154.2 338.6 157.2 337 158.5C335.4 159.8 331.7 159.2 328 158C324.3 156.8 319.2 153.3 315 151C310.8 148.7 305.5 146.3 302.5 144C299.5 141.7 297.2 139.8 297 137C296.8 134.2 299.2 130.5 301 127C302.8 123.5 305.6 119.8 307.5 116C309.4 112.2 310.8 106.7 312.5 104C314.2 101.3 315.2 99.8 317.5 100Z"/>
<path fill="#9999ff" d="M290 228C291.8 225.5 294.2 224.2 297.5 223C300.8 221.8 306.2 220.1 310 220.5C313.8 220.9 316.7 223.4 320 225.5C323.3 227.6 327 230.9 330 233C333 235.1 335 236.3 338 238C341 239.7 344.2 240.9 348 243C351.8 245.1 356.3 248.4 360.5 250.5C364.7 252.6 368.4 253.8 373 255.5C377.6 257.2 383 259.9 388 260.5C393 261.1 398 259.9 403 259.2C408 258.6 413.4 257 418 256.8C422.6 256.5 427.2 257 430.5 258C433.8 259 435.9 260.5 438 263C440.1 265.5 441.8 269.7 443 273C444.2 276.3 444.7 280.1 445.5 283C446.3 285.9 446.8 288 448 290.5C449.2 293 451.3 295.5 453 298C454.7 300.5 456.5 302.2 458 305.5C459.5 308.8 461.1 313.9 461.8 318C462.4 322.1 461.5 326.3 462 330C462.5 333.7 463.9 336.4 465 340C466.1 343.6 467.3 347.8 468.3 351.7C469.3 355.6 470 359.4 470.8 363.3C471.6 367.2 472.3 370.8 473.3 375C474.3 379.2 475.7 384.1 476.7 388.3C477.7 392.5 478.5 396.1 479.2 400C479.9 403.9 480.7 408.7 480.8 411.7C480.9 414.7 481 415.9 480 418C479 420.1 479.2 422.8 475 424C470.8 425.2 459.5 426 455 425C450.5 424 450 421.2 448 418C446 414.8 445.1 409.7 443 406C440.9 402.3 438 399.3 435.5 396C433 392.7 430.5 388.7 428 386C425.5 383.3 423 381.7 420.5 380C418 378.3 415.3 376.8 413 376C410.7 375.2 408.9 375.7 406.7 375C404.5 374.3 402.2 373.1 400 371.7C397.8 370.3 395.2 368.4 393.3 366.7C391.4 365 390 363.6 388.3 361.7C386.6 359.8 384.7 356.9 383.3 355C381.9 353.1 381.1 351.7 380 350C378.9 348.3 377.8 346.7 376.7 345C375.6 343.3 374.4 341.7 373.3 340C372.2 338.3 371.1 336.2 370 335C368.9 333.8 367.8 332.5 366.7 332.5C365.6 332.5 364.7 334 363.3 335C361.9 336 360 337.2 358.3 338.3C356.6 339.4 355 340.6 353.3 341.7C351.6 342.8 349.7 343.8 348.3 345C346.9 346.2 346.1 347.8 345 349.2C343.9 350.6 343.2 352.5 341.7 353.3C340.2 354.1 337.8 354.6 335.8 354.2C333.9 353.8 331.5 352.3 330 350.8C328.5 349.3 327.2 347.1 326.7 345C326.1 342.9 326.3 340.5 326.7 338.3C327.1 336.1 328.1 333.6 329.2 331.7C330.3 329.8 331.8 328.1 333.3 326.7C334.8 325.3 336.6 324.4 338.3 323.3C340 322.2 341.4 321.1 343.3 320C345.2 318.9 347.8 318.1 350 316.7C352.2 315.3 355 313.6 356.7 311.7C358.4 309.8 359.2 306.9 360 305C360.8 303.1 361.2 301.6 361.7 300C362.2 298.4 363.8 297.4 363 295.5C362.2 293.6 359.1 290.1 356.7 288.3C354.2 286.6 351.4 285.4 348.3 285C345.2 284.6 341.6 285.7 338.3 285.8C335 285.9 331.1 286.5 328.3 285.8C325.5 285.1 323.6 283.5 321.7 281.7C319.8 279.9 318.4 277.2 316.7 275C315 272.8 313.9 270.2 311.7 268.3C309.5 266.4 306.4 265 303.3 263.3C300.2 261.6 296 260.5 293.3 258.3C290.6 256.1 288.3 253.4 287.2 250C286.1 246.6 286 241.7 286.5 238C287 234.3 288.2 230.5 290 228Z"/>
<path fill="#9999ff" d="M216 187.5C216.7 186.5 218.2 185.8 219.5 186C220.8 186.2 222.3 187.2 223.5 188.5C224.7 189.8 225.8 192.1 226.5 194C227.2 195.9 228 198.4 228 200C228 201.6 227.4 203.1 226.5 203.5C225.6 203.9 223.8 203.4 222.5 202.5C221.2 201.6 219.7 199.8 218.5 198C217.3 196.2 215.9 193.8 215.5 192C215.1 190.2 215.3 188.5 216 187.5Z"/>
<path fill="#9999ff" d="M597.2 373.5C597.7 370 598.7 366.4 601 363.5C603.3 360.6 607.2 357.9 611 356C614.8 354.1 619.8 352.5 623.5 352.2C627.2 352 630.6 353.3 633.5 354.8C636.4 356.2 639.1 358.7 641 361C642.9 363.3 644.5 366 644.8 368.5C645 371 643.7 373.7 642.2 376C640.8 378.3 638.7 380.8 636 382.2C633.3 383.7 628.9 383.5 626 384.8C623.1 386 621 387.9 618.5 389.8C616 391.6 613.5 395.6 611 396C608.5 396.4 605.6 394.1 603.5 392.2C601.4 390.4 599.5 387.9 598.5 384.8C597.5 381.6 596.8 377 597.2 373.5Z"/>
<path fill="#9999ff" d="M533.5 303C533.5 302.3 534.8 301 535.5 301C536.2 301 537.5 302.3 537.5 303C537.5 303.7 536.2 305 535.5 305C534.8 305 533.5 303.7 533.5 303Z"/>
<path fill="#3333ff" d="M447 76C448.2 74.3 449.4 72 451 70C452.6 68 454.5 66.2 456.7 64.3C458.9 62.4 461.2 60 464 58.5C466.8 57 470.4 56.6 473.3 55.5C476.2 54.4 479.2 53.5 481.7 51.7C484.2 50 486.1 47 488.3 45C490.5 43 492.2 41.2 495 40C497.8 38.8 501.4 37.9 505 37.5C508.6 37.1 513.1 37 516.7 37.5C520.3 38 523.4 39.7 526.7 40.8C530 41.9 533.4 43.7 536.7 44C540 44.3 543.7 42 546.7 42.5C549.8 43 552.5 45.3 555 46.7C557.5 48.1 559.2 50.1 561.7 50.8C564.2 51.5 567.2 50.6 570 50.8C572.8 50.9 575.5 51.3 578.3 51.7C581.1 52.1 584.5 51.9 586.7 53.3C588.9 54.7 590.3 57.5 591.7 60C593.1 62.5 593.9 65.2 595 68.3C596.1 71.3 597.2 75.2 598.3 78.3C599.4 81.4 600.5 84.5 601.7 86.7C603 88.9 603.9 91 605.8 91.7C607.7 92.4 611.9 90 613.3 90.8C614.7 91.6 613.6 94.6 614.2 96.7C614.8 98.8 615.5 101.4 616.7 103.3C618 105.2 620 106.6 621.7 108.3C623.4 110 626 111.5 626.7 113.3C627.4 115.1 625.4 117 626 119C626.6 121 629.6 122.8 630.5 125C631.4 127.2 630.4 130.6 631.1 132.5C631.8 134.4 634.4 134.8 634.9 136.2C635.4 137.7 633.3 139.8 634.2 141.2C635.2 142.7 638.8 143.1 640.5 145C642.2 146.9 643.2 149.8 644.2 152.5C645.3 155.2 645.9 158.3 646.8 161.2C647.6 164.2 648.5 167.1 649.2 170C650 172.9 650.6 175.4 651.1 178.8C651.6 182.1 652.2 186.5 652.4 190C652.5 193.5 652.3 196.9 652 200C651.7 203.1 651.7 205.6 650.8 208.7C649.9 211.8 648.5 216.1 646.7 218.7C644.9 221.3 642.8 223.1 640 224.5C637.2 225.9 633.3 226.6 630 227C626.7 227.4 623 227.4 620 227C617 226.6 614.2 225.9 611.7 224.5C609.2 223.1 607.5 220.6 605 218.7C602.5 216.8 599.8 214.6 596.7 212.8C593.7 211 590 209.3 586.7 207.8C583.4 206.3 580 205.1 576.7 204C573.4 202.9 569.8 201.8 566.7 201C563.6 200.2 560.7 199.8 558 199C555.3 198.2 553 197.5 550.3 196.2C547.6 194.9 544.8 193.3 542 191.2C539.2 189.1 536.2 186.1 533.7 183.7C531.2 181.3 529.5 179.2 527 177C524.5 174.8 521.8 172.4 518.7 170.3C515.7 168.2 511.8 166.3 508.7 164.5C505.6 162.7 502.8 161.3 500.3 159.5C497.8 157.7 495.6 154.9 493.7 153.7C491.8 152.4 490.1 151.4 488.7 152C487.3 152.6 486.4 154.7 485.3 157C484.2 159.3 483 162.4 482 166C481 169.6 480.1 175.2 479.2 178.7C478.3 182.2 477.5 183.8 476.7 187C475.9 190.2 475 195 474.2 197.8C473.4 200.6 473.2 202 471.7 203.7C470.2 205.4 467.8 206.8 465 207.8C462.2 208.8 458.6 209.1 455 209.5C451.4 209.9 447.2 210.2 443.3 210.3C439.4 210.4 435.6 210.7 431.7 210.3C427.8 209.9 423.9 208.6 420 207.8C416.1 207 411.9 206.3 408.3 205.3C404.7 204.3 401.6 203.2 398.3 202C395 200.8 391.6 199.3 388.3 197.8C385 196.3 381.1 194.2 378.3 192.8C375.5 191.4 373.1 190.8 371.7 189.5C370.3 188.2 369.7 186.8 370 185.3C370.3 183.8 371.9 181.8 373.3 180.3C374.7 178.8 376.1 177.4 378.3 176.2C380.5 174.9 383.9 173.9 386.7 172.8C389.5 171.7 392.5 170.8 395 169.5C397.5 168.2 399.8 167.1 401.7 165.3C403.6 163.5 405.6 162 406.7 158.7C407.8 155.4 407.8 149.2 408.3 145.3C408.8 141.4 408.9 138.1 409.5 135C410.1 131.9 410.8 129.2 411.7 126.7C412.6 124.2 413.9 122.2 415 120C416.1 117.8 417.2 115.5 418.3 113.3C419.4 111.1 420.6 108.8 421.7 106.7C422.8 104.6 423.8 102.6 425 100.8C426.2 99 427.8 97.5 429.2 95.8C430.6 94.1 431.8 92.6 433.3 90.8C434.8 89 436.6 86.8 438.3 85C440 83.2 442.1 81.5 443.5 80C444.9 78.5 445.8 77.7 447 76Z"/>
<path fill="#3333ff" d="M322.5 116.2C324 117.5 326.5 121.9 327.5 125C328.5 128.1 329 132.1 328.8 135C328.5 137.9 327.1 139.8 326.2 142.5C325.4 145.2 325 150.4 323.8 151.2C322.5 152.1 320.4 148.8 318.8 147.5C317.1 146.2 315.8 145 313.8 143.8C311.7 142.5 307.7 141.5 306.2 140C304.8 138.5 304 136.2 305 135C306 133.8 310.6 134.2 312.5 132.5C314.4 130.8 315.2 127.5 316.2 125C317.3 122.5 317.7 119 318.8 117.5C319.8 116 321 115 322.5 116.2Z"/>
<path fill="#3333ff" d="M293.8 233C295.2 230.7 297.3 229.9 300 229.2C302.7 228.6 306.9 228.2 310 229.2C313.1 230.3 317.1 232.8 318.8 235.5C320.4 238.2 320.6 242.6 320 245.5C319.4 248.4 317.5 251.3 315 253C312.5 254.7 308.3 255.7 305 255.5C301.7 255.3 297.3 253.8 295 251.8C292.7 249.7 291.5 246.1 291.2 243C291 239.9 292.3 235.3 293.8 233Z"/>
<path fill="#3333ff" d="M330.8 263.3C331.2 260.4 333.2 255.9 334.2 253.3C335.2 250.7 335.2 248.2 336.7 247.5C338.2 246.8 341.1 248.4 343.3 249.2C345.5 249.9 347.2 250.7 350 252C352.8 253.3 356.5 255.3 360 257C363.5 258.7 367.5 260.3 371.2 262C375 263.7 378.8 265.5 382.5 267C386.2 268.5 390 270.1 393.8 270.8C397.5 271.4 401.5 271.2 405 270.8C408.5 270.3 411.2 268.6 415 268.2C418.8 267.9 424.2 268.3 427.5 268.9C430.8 269.5 433.1 270.7 435 272C436.9 273.3 438.1 274.2 439 276.5C439.9 278.8 439.6 282.8 440.5 285.5C441.4 288.2 442.6 290.5 444.2 293C445.9 295.5 448.6 297.6 450.5 300.5C452.4 303.4 454.2 306.8 455.5 310.5C456.8 314.2 457.8 318.8 458 323C458.2 327.2 457 331.8 457 336C457 340.2 457.2 344.3 458 348.5C458.8 352.7 460.5 356.8 461.8 361C463 365.2 464.5 369.3 465.5 373.5C466.5 377.7 467.2 382.2 468 386C468.8 389.8 470.5 393.1 470.5 396C470.5 398.9 469.7 401.4 468 403.5C466.3 405.6 463.4 407.7 460.5 408.5C457.6 409.3 453.4 409.3 450.5 408.5C447.6 407.7 445.1 405.6 443 403.5C440.9 401.4 439.8 398.4 438 396C436.2 393.6 433.9 391 432 389.2C430.1 387.4 429 386.8 426.7 385C424.4 383.2 421.1 380.2 418.3 378.3C415.5 376.4 412.5 375 410 373.3C407.5 371.6 405.5 370.2 403.3 368.3C401.1 366.4 398.6 364.2 396.7 361.7C394.8 359.2 393.1 356.1 391.7 353.3C390.3 350.5 389.4 347.5 388.3 345C387.2 342.5 386.4 340.2 385 338.3C383.6 336.4 381.7 335 380 333.3C378.3 331.6 376.7 330 375 328.3C373.3 326.6 370.6 325.2 370 323.3C369.4 321.4 371.1 319.2 371.7 316.7C372.2 314.2 373.6 311.1 373.3 308.3C373 305.5 371.3 303 370 300C368.7 297 367.8 293.5 365.5 290.5C363.2 287.5 359.2 283.9 356.2 282C353.2 280.1 350.2 279.5 347.5 278.9C344.8 278.3 342.2 278.7 340 278.3C337.8 277.9 335.4 277.7 334 276.5C332.6 275.3 332.2 273.2 331.7 271C331.2 268.8 330.4 266.2 330.8 263.3Z"/>
<path fill="#3333ff" d="M334 337C335.2 336.3 336.7 337 337.5 338C338.3 339 338.9 341.2 339 343C339.1 344.8 338.8 347.7 338 349C337.2 350.3 335.7 351.2 334.5 351C333.3 350.8 331.7 349.5 331 348C330.3 346.5 330 343.8 330.5 342C331 340.2 332.8 337.7 334 337Z"/>
<path fill="#3333ff" d="M604.8 373.5C605 370.2 606.2 367 608.5 364.8C610.8 362.5 615.2 360.6 618.5 359.8C621.8 358.9 625.6 358.9 628.5 359.8C631.4 360.6 634.8 362.7 636 364.8C637.2 366.8 637.2 370.2 636 372.2C634.8 374.3 631 375.6 628.5 377.2C626 378.9 623.5 380.4 621 382.2C618.5 384.1 615.8 388.1 613.5 388.5C611.2 388.9 608.7 387.2 607.2 384.8C605.8 382.2 604.5 376.8 604.8 373.5Z"/>
<path fill="#0000e6" d="M461 81C462.7 79.2 464.4 76.3 466.7 74.5C469 72.7 472.2 70.3 475 70C477.8 69.7 480.5 72.6 483.3 72.5C486.1 72.4 488.9 70.9 491.7 69.2C494.5 67.5 497.2 64.6 500 62.5C502.8 60.4 505.5 58.5 508.3 56.7C511.1 54.9 514.2 52.7 516.7 51.7C519.2 50.7 520.8 50.7 523.3 50.8C525.8 50.9 528.9 52.2 531.7 52.5C534.5 52.8 537.2 51.8 540 52.5C542.8 53.2 545.5 55 548.3 56.7C551.1 58.4 553.9 61 556.7 62.5C559.5 64 562.8 65.8 565 65.8C567.2 65.8 567.8 63.5 570 62.5C572.2 61.5 575.8 60.1 578.3 60C580.8 59.9 583.2 60.3 585 61.7C586.8 63.1 588.1 65.8 589.2 68.3C590.3 70.8 590.7 73.6 591.7 76.7C592.7 79.8 593.9 83.4 595 86.7C596.1 90 597.2 93.7 598.3 96.7C599.4 99.8 600.6 102.2 601.7 105C602.8 107.8 603.6 110.8 605 113.3C606.4 115.8 608.2 117.6 610 120C611.8 122.4 614.7 124.8 616 127.5C617.3 130.2 617 133.5 618 136.2C619 139 620.3 141.5 621.8 143.8C623.2 146 625.1 147.9 626.8 150C628.4 152.1 630.3 154 631.8 156.2C633.2 158.5 634.2 161.2 635.5 163.8C636.8 166.2 638 168.8 639.2 171.2C640.5 173.8 642.1 176 643 178.8C643.9 181.5 644.5 184.6 644.9 187.5C645.3 190.4 645.6 193.3 645.5 196C645.4 198.7 645.1 201 644.2 203.7C643.3 206.4 641.8 209.8 640 212C638.2 214.2 635.8 215.8 633.3 217C630.8 218.2 627.8 219.2 625 219.5C622.2 219.8 619.5 219.7 616.7 218.7C613.9 217.7 611.1 215.4 608.3 213.7C605.5 212 602.8 210 600 208.5C597.2 207 594.7 205.3 591.7 204.5C588.7 203.7 585.8 204.4 582 203.7C578.2 203 572.9 201.3 568.7 200.3C564.5 199.3 560.6 198.9 557 197.8C553.4 196.7 550 195.5 547 193.7C544 191.9 541.2 189.2 538.7 187C536.2 184.8 534.5 182.7 532 180.3C529.5 177.9 526.8 175.2 523.7 172.8C520.7 170.5 517 168.3 513.7 166.2C510.4 164.1 506.8 162.5 503.7 160.3C500.6 158.1 497.8 155 495.3 152.8C492.8 150.6 490.5 148.1 488.7 147C486.9 145.9 485.6 144.7 484.5 146C483.4 147.3 482.6 151.8 482 155C481.4 158.2 481.4 161.6 480.8 165.3C480.2 169 479.3 173.1 478.3 177C477.3 180.9 475.8 185.5 475 188.7C474.2 191.9 474 194.1 473.3 196.2C472.6 198.3 472.2 199.8 470.8 201.2C469.4 202.6 467.6 203.7 465 204.5C462.4 205.3 458.6 205.8 455 206.2C451.4 206.6 447.2 206.9 443.3 207C439.4 207.1 435.6 207.3 431.7 207C427.8 206.7 423.9 206.1 420 205.3C416.1 204.5 411.9 203.1 408.3 202C404.7 200.9 401.6 199.9 398.3 198.7C395 197.4 391.1 195.9 388.3 194.5C385.5 193.1 383.1 191.8 381.7 190.3C380.3 188.8 379.6 187.1 380 185.3C380.4 183.5 382.2 181.3 384.2 179.5C386.1 177.7 389.1 175.9 391.7 174.5C394.3 173.1 397.5 172.4 400 171.2C402.5 169.9 404.9 169.1 406.7 167C408.5 164.9 409.8 162 410.8 158.7C411.8 155.4 411.8 150.6 412.5 147C413.2 143.4 414.2 139.7 415 137C415.8 134.3 416.8 132.7 417.5 131C418.2 129.3 418.5 128.4 419.2 126.7C419.9 125 420.6 122.9 421.7 120.8C422.8 118.7 424.4 116.3 425.8 114.2C427.2 112.1 428.5 110 430 108.3C431.5 106.6 433.1 104.8 435 104.2C436.9 103.6 439.8 105 441.7 104.6C443.6 104.2 445.3 103 446.7 101.7C448.1 100.4 449.4 98.7 450 96.7C450.6 94.8 449.3 92 450.4 90C451.5 88 454.9 86.5 456.7 85C458.5 83.5 459.3 82.8 461 81Z"/>
<path fill="#3333ff" d="M571 80C570.3 79 570.2 74.3 570.5 72C570.8 69.7 571.8 67.4 573 66C574.2 64.6 576.3 63.6 578 63.5C579.7 63.4 581.7 64.2 583 65.5C584.3 66.8 585.6 69.1 586 71C586.4 72.9 586 75.4 585.5 77C585 78.6 583.9 80 583 80.5C582.1 81 580.6 80.9 580 80C579.4 79.1 579.9 76.3 579.5 75C579.1 73.7 578.2 72.2 577.5 72C576.8 71.8 576 72.5 575.5 73.5C575 74.5 575.2 76.9 574.5 78C573.8 79.1 571.7 81 571 80Z"/>
<path fill="#0000e6" d="M380 291C381.1 289 385 287.8 387.5 287C390 286.2 392.5 286.1 395 286.4C397.5 286.7 399.6 288.4 402.5 288.9C405.4 289.4 409.2 289.6 412.5 289.5C415.8 289.4 419.4 288 422.5 288.2C425.6 288.5 428.8 289.8 431.2 290.8C433.7 291.7 435.2 292.5 437 294C438.8 295.5 440.3 297.8 442 300C443.7 302.2 445.5 304.5 447 307C448.5 309.5 449.8 312.3 451 315C452.2 317.7 453.6 319.5 454 323C454.4 326.5 453.7 332.6 453.5 336C453.3 339.4 452.5 340.2 453 343.5C453.5 346.8 455.5 351.8 456.8 356C458 360.2 459.5 364.3 460.5 368.5C461.5 372.7 462.2 377.2 463 381C463.8 384.8 465.3 387.9 465.5 391C465.7 394.1 465.5 397.7 464.2 399.8C463 401.8 460.7 403.1 458 403.5C455.3 403.9 450.9 403.5 448 402.2C445.1 401 443.2 398.9 440.5 396C437.8 393.1 434.9 387.9 432 385C429.1 382.1 426.1 380.5 423.3 378.3C420.5 376.1 417.8 373.9 415 371.7C412.2 369.5 409.2 367.2 406.7 365C404.2 362.8 401.9 360.8 400 358.3C398.1 355.8 396.5 352.8 395 350C393.5 347.2 392.2 344.2 390.8 341.7C389.4 339.2 388.2 336.9 386.7 335C385.2 333.1 383.2 331.9 381.7 330C380.2 328.1 378.1 325.5 377.5 323.3C376.9 321.1 377.6 319.2 378.3 316.7C379 314.2 381.2 311.2 381.7 308.3C382.1 305.4 381.3 301.9 381 299C380.7 296.1 378.9 293 380 291Z"/>
<path fill="#0000e6" d="M608.5 373.5C608.9 371.2 610.2 368.9 612.2 367.2C614.3 365.6 618.3 363.9 621 363.5C623.7 363.1 626.6 363.9 628.5 364.8C630.4 365.6 632.7 367 632.2 368.5C631.8 370 628.1 371.6 626 373.5C623.9 375.4 621.8 377.9 619.8 379.8C617.7 381.6 615.2 384.5 613.5 384.8C611.8 385 610.6 382.9 609.8 381C608.9 379.1 608.1 375.8 608.5 373.5Z"/>
<path fill="#0000b3" d="M460.8 95C462.1 92.9 464.3 89.7 466.7 87.5C469.1 85.3 472.2 82.2 475 81.7C477.8 81.2 480.5 84.1 483.3 84.2C486.1 84.3 488.9 83.3 491.7 82.5C494.5 81.7 497.2 80.3 500 79.2C502.8 78.1 505.5 76.9 508.3 75.8C511.1 74.7 514.2 73.6 516.7 72.5C519.2 71.4 521.8 70.9 523.3 69.2C524.8 67.5 524.7 63.9 525.8 62.5C526.9 61.1 528.2 60.5 530 60.8C531.8 61.1 534.2 63 536.7 64.2C539.2 65.5 542.2 66.8 545 68.3C547.8 69.8 550.8 71.8 553.3 73.3C555.8 74.8 557.8 76.1 560 77.5C562.2 78.9 565.5 79.3 566.7 81.7C568 84.1 566.7 89.2 567.5 91.7C568.3 94.2 569.6 95.2 571.7 96.7C573.8 98.2 577.2 100 580 100.8C582.8 101.6 586.6 100.7 588.3 101.7C590 102.7 590.5 104.8 590 106.7C589.5 108.6 586.1 111.1 585 113.3C583.9 115.5 583.6 117.2 583.3 120C583 122.8 582.2 127.9 583 130C583.8 132.1 586.1 131 588 132.5C589.9 134 592.2 136.5 594.2 138.8C596.3 141 598 144 600.5 146.2C603 148.5 606.5 150.6 609.2 152.5C612 154.4 614.2 155.8 616.8 157.5C619.2 159.2 622.2 160.4 624.2 162.5C626.3 164.6 627.6 167.3 629.2 170C630.9 172.7 633.1 175.8 634.2 178.8C635.4 181.7 635.7 184.6 636.1 187.5C636.5 190.4 637.2 193 636.5 196C635.8 199 633.9 203.1 631.7 205.3C629.5 207.6 626.4 208.9 623.3 209.5C620.2 210.1 616.3 209.4 613.3 208.7C610.2 208 607.8 206.6 605 205.3C602.2 204 600 201.9 596.7 200.8C593.4 199.7 589.7 199.2 585 198.7C580.3 198.2 573.4 198.2 568.7 197.8C564 197.4 560.6 197.3 557 196.2C553.4 195.1 550 193.3 547 191.2C544 189.1 541.5 186.3 538.7 183.7C535.9 181 533.1 177.8 530.3 175.3C527.5 172.8 525 170.8 522 168.7C519 166.6 515.3 164.8 512 162.8C508.7 160.9 505.1 159.3 502 157C498.9 154.7 496.2 151.2 493.7 148.7C491.2 146.2 488.8 142.9 487 142C485.2 141.1 484.2 140.5 483 143C481.8 145.5 480.9 152.4 480 157C479.1 161.6 478.3 166.1 477.5 170.3C476.7 174.5 475.8 178.4 475 182C474.2 185.6 473.5 189.4 472.5 192C471.5 194.6 470.6 196.3 469.2 197.8C467.8 199.3 466.6 200.4 464.2 201.2C461.8 202 458.5 202.4 455 202.8C451.5 203.2 447.2 203.5 443.3 203.7C439.4 203.8 435.6 204 431.7 203.7C427.8 203.4 423.9 202.7 420 202C416.1 201.3 411.9 200.6 408.3 199.5C404.7 198.4 401.2 196.7 398.3 195.3C395.4 193.9 392.6 192.6 390.8 191.2C389 189.8 387.8 188.5 387.5 187C387.2 185.5 387.9 183.5 389.2 182C390.4 180.5 392.6 179.2 395 177.8C397.4 176.4 400.8 175.2 403.3 173.7C405.8 172.2 408.2 170.9 410 168.7C411.8 166.5 413.1 163.9 414.2 160.3C415.3 156.7 415.8 150.7 416.7 147C417.6 143.3 418.1 140.3 419.5 138C420.9 135.7 422.9 134 425 133C427.1 132 429.8 132.3 432 132C434.2 131.7 436.8 132.3 438.3 131C439.8 129.7 439.8 126.3 440.8 124.2C441.8 122.1 443.1 120.1 444.2 118.3C445.3 116.5 446.2 114.7 447.5 113.3C448.8 111.9 450 111.2 451.7 110C453.4 108.8 456.2 107.5 457.5 105.8C458.8 104.1 458.6 101.8 459.2 100C459.8 98.2 459.6 97.1 460.8 95Z"/>
<path fill="#0000b3" d="M390 305.5C391.3 304.1 393.8 305.2 397 305C400.2 304.8 405.8 304.6 409.5 304.4C413.2 304.2 416.6 303 419.5 303.8C422.4 304.5 424.5 306.9 427 308.8C429.5 310.6 432.4 312.9 434.5 315C436.6 317.1 438.2 318.8 439.5 321.2C440.8 323.8 441.4 327.1 442 330C442.6 332.9 442.6 335.8 443.2 338.8C443.9 341.7 444.9 344.6 445.8 347.5C446.6 350.4 447.2 353.2 448.2 356C449.3 358.8 450.8 361.3 452 364C453.2 366.7 454.4 369.3 455.5 372C456.6 374.7 457.8 377.5 458.5 380C459.2 382.5 460 385 459.5 387C459 389 457.4 391.4 455.5 392.2C453.6 393.1 450.5 393.3 448 392.2C445.5 391.2 443.2 388.3 440.5 386C437.8 383.7 434.6 380.7 432 378.3C429.4 375.9 427.6 373.9 425 371.7C422.4 369.5 419.5 367.5 416.7 365C413.9 362.5 410.5 359.5 408.3 356.7C406.1 353.9 405 351.4 403.3 348.3C401.6 345.2 400 341.4 398.3 338.3C396.6 335.2 394.7 332.8 393.3 330C391.9 327.2 390.7 324.5 390 321.7C389.3 318.9 389 316 389 313.3C389 310.6 388.7 306.9 390 305.5Z"/>
<path fill="#0000b3" d="M611 373.5C611.4 371.6 613.1 369.5 614.8 368.5C616.4 367.5 619.8 366.6 621 367.2C622.2 367.9 622.9 370.2 622.2 372.2C621.6 374.3 618.9 378.5 617.2 379.8C615.6 381 613.3 380.8 612.2 379.8C611.2 378.7 610.6 375.4 611 373.5Z"/>
<path fill="#000080" d="M470 103C470.8 100.8 470.4 98.3 471.5 96.7C472.6 95.1 474.2 93.5 476.7 93.3C479.2 93.1 483.6 95.5 486.7 95.8C489.8 96.1 492.8 94.6 495 95C497.2 95.4 498.3 98.6 500 98.3C501.7 98 503.3 94.8 505 93.3C506.7 91.8 507.5 90.3 510 89.2C512.5 88.1 516.7 87.5 520 86.7C523.3 85.9 526.7 84.9 530 84.2C533.3 83.5 537 82.7 540 82.5C543 82.3 546.1 82 548.3 83.3C550.5 84.5 551.6 87.5 553.3 90C555 92.5 556.3 95.5 558.3 98.3C560.2 101.1 563.2 103.6 565 106.7C566.8 109.8 568.2 113.4 569.2 116.7C570.2 120 570.7 123.7 570.8 126.7C570.9 129.8 570.5 132.4 570 135C569.5 137.6 567.9 139.7 567.5 142C567.1 144.3 566.8 146.5 567.5 148.7C568.2 150.9 569.6 153.4 571.7 155.3C573.8 157.2 577.3 159.3 580 160.3C582.7 161.3 585 160.9 588 161.2C591 161.6 594.9 161.9 598 162.5C601.1 163.1 604 163.8 606.8 165C609.5 166.2 612 168.1 614.2 170C616.5 171.9 618.8 173.8 620.5 176.2C622.2 178.8 623.4 182.2 624.2 185C625.1 187.8 625.4 190.7 625.5 193C625.6 195.3 625.6 197.2 625 198.7C624.4 200.2 623.7 201.6 621.7 202C619.8 202.4 616.1 201.8 613.3 201.2C610.5 200.6 608.3 199.2 605 198.3C601.7 197.4 597.5 196.5 593.3 196C589.1 195.5 584.7 195.5 580 195.5C575.3 195.5 569.4 196.5 565.3 196.2C561.2 195.9 557.8 195.2 555.3 193.7C552.8 192.2 551.7 189.5 550.3 187C548.9 184.5 547.3 181.5 547 178.7C546.7 175.9 548 172.8 548.7 170.3C549.4 167.8 551.8 165.6 551.2 163.7C550.6 161.8 547.7 159.4 545.3 158.7C542.9 158 540.3 158.8 537 159.5C533.7 160.2 528.9 163.2 525.3 162.8C521.7 162.4 518.3 159.1 515.3 157C512.2 154.9 509.8 152.8 507 150.3C504.2 147.8 501.2 144.7 498.7 142C496.2 139.3 494.1 135.3 492 134C489.9 132.7 487.7 133.3 486 134C484.3 134.7 482.9 136.9 482 138C481.1 139.1 481.4 138 480.8 140.3C480.2 142.6 479.1 147.8 478.3 152C477.5 156.2 476.6 160.9 475.8 165.3C475 169.8 474.1 174.8 473.3 178.7C472.5 182.6 471.8 186.1 470.8 188.7C469.8 191.3 468.8 193 467.5 194.5C466.2 196 465.4 197 463.3 197.8C461.2 198.6 458.3 199.1 455 199.5C451.7 199.9 447.2 200.2 443.3 200.3C439.4 200.4 435.6 200.6 431.7 200.3C427.8 200 423.6 199.5 420 198.7C416.4 197.9 412.8 196.6 410 195.3C407.2 194.1 405 192.6 403.3 191.2C401.6 189.8 400.3 188.5 400 187C399.7 185.5 400.3 183.7 401.7 182C403.1 180.3 406.2 178.9 408.3 177C410.4 175.1 412.5 173.1 414.2 170.3C415.9 167.5 417.1 164.2 418.3 160.3C419.6 156.4 420.6 150.4 421.7 147C422.8 143.6 423.4 141.7 425 140C426.6 138.3 429.2 138 431.5 137C433.8 136 436.9 135 439 134C441.1 133 442.9 132.5 444.2 131C445.5 129.5 445.6 126.8 446.7 125C447.8 123.2 449.3 121.4 450.8 120C452.3 118.6 454 117.5 455.8 116.7C457.6 115.9 459.9 116.1 461.7 115C463.5 113.9 465.3 112 466.7 110C468.1 108 469.2 105.2 470 103Z"/>
<path fill="#000080" d="M414.5 320C415.4 318.7 417.8 318.1 419.5 318.1C421.2 318.1 423 318.6 424.5 320C426 321.4 426.8 324.2 428.2 326.2C429.7 328.3 431.8 330.2 433.2 332.5C434.7 334.8 436 337.5 437 340C438 342.5 438.7 344.8 439.5 347.5C440.3 350.2 440.9 353.2 442 356C443.1 358.8 445 361.5 446 364C447 366.5 447.9 369 448 371C448.1 373 447.7 374.9 446.5 376C445.3 377.1 443.1 377.5 441 377.5C438.9 377.5 436.4 377.2 434 376C431.6 374.8 429 372.4 426.7 370C424.4 367.6 422.2 364.8 420 361.7C417.8 358.6 415.5 355 413.3 351.7C411.1 348.4 408.3 344.1 406.7 341.7C405.1 339.2 403.7 338.2 403.5 337C403.3 335.8 404.5 335.1 405.8 334.5C407 333.9 409.1 334.1 410.8 333.5C412.4 332.9 415 332.2 415.5 331C416 329.8 414.2 327.8 414 326C413.8 324.2 413.6 321.3 414.5 320Z"/>
</g>
<g fill="none" stroke="#9a9ab0" stroke-width="0.45" stroke-dasharray="2 1.5" opacity="0.8">
<path d="M460.8 95C462.1 92.9 464.3 89.7 466.7 87.5C469.1 85.3 472.2 82.2 475 81.7C477.8 81.2 480.5 84.1 483.3 84.2C486.1 84.3 488.9 83.3 491.7 82.5C494.5 81.7 497.2 80.3 500 79.2C502.8 78.1 505.5 76.9 508.3 75.8C511.1 74.7 514.2 73.6 516.7 72.5C519.2 71.4 521.8 70.9 523.3 69.2C524.8 67.5 524.7 63.9 525.8 62.5C526.9 61.1 528.2 60.5 530 60.8C531.8 61.1 534.2 63 536.7 64.2C539.2 65.5 542.2 66.8 545 68.3C547.8 69.8 550.8 71.8 553.3 73.3C555.8 74.8 557.8 76.1 560 77.5C562.2 78.9 565.5 79.3 566.7 81.7C568 84.1 566.7 89.2 567.5 91.7C568.3 94.2 569.6 95.2 571.7 96.7C573.8 98.2 577.2 100 580 100.8C582.8 101.6 586.6 100.7 588.3 101.7C590 102.7 590.5 104.8 590 106.7C589.5 108.6 586.1 111.1 585 113.3C583.9 115.5 583.6 117.2 583.3 120C583 122.8 582.2 127.9 583 130C583.8 132.1 586.1 131 588 132.5C589.9 134 592.2 136.5 594.2 138.8C596.3 141 598 144 600.5 146.2C603 148.5 606.5 150.6 609.2 152.5C612 154.4 614.2 155.8 616.8 157.5C619.2 159.2 622.2 160.4 624.2 162.5C626.3 164.6 627.6 167.3 629.2 170C630.9 172.7 633.1 175.8 634.2 178.8C635.4 181.7 635.7 184.6 636.1 187.5C636.5 190.4 637.2 193 636.5 196C635.8 199 633.9 203.1 631.7 205.3C629.5 207.6 626.4 208.9 623.3 209.5C620.2 210.1 616.3 209.4 613.3 208.7C610.2 208 607.8 206.6 605 205.3C602.2 204 600 201.9 596.7 200.8C593.4 199.7 589.7 199.2 585 198.7C580.3 198.2 573.4 198.2 568.7 197.8C564 197.4 560.6 197.3 557 196.2C553.4 195.1 550 193.3 547 191.2C544 189.1 541.5 186.3 538.7 183.7C535.9 181 533.1 177.8 530.3 175.3C527.5 172.8 525 170.8 522 168.7C519 166.6 515.3 164.8 512 162.8C508.7 160.9 505.1 159.3 502 157C498.9 154.7 496.2 151.2 493.7 148.7C491.2 146.2 488.8 142.9 487 142C485.2 141.1 484.2 140.5 483 143C481.8 145.5 480.9 152.4 480 157C479.1 161.6 478.3 166.1 477.5 170.3C476.7 174.5 475.8 178.4 475 182C474.2 185.6 473.5 189.4 472.5 192C471.5 194.6 470.6 196.3 469.2 197.8C467.8 199.3 466.6 200.4 464.2 201.2C461.8 202 458.5 202.4 455 202.8C451.5 203.2 447.2 203.5 443.3 203.7C439.4 203.8 435.6 204 431.7 203.7C427.8 203.4 423.9 202.7 420 202C416.1 201.3 411.9 200.6 408.3 199.5C404.7 198.4 401.2 196.7 398.3 195.3C395.4 193.9 392.6 192.6 390.8 191.2C389 189.8 387.8 188.5 387.5 187C387.2 185.5 387.9 183.5 389.2 182C390.4 180.5 392.6 179.2 395 177.8C397.4 176.4 400.8 175.2 403.3 173.7C405.8 172.2 408.2 170.9 410 168.7C411.8 166.5 413.1 163.9 414.2 160.3C415.3 156.7 415.8 150.7 416.7 147C417.6 143.3 418.1 140.3 419.5 138C420.9 135.7 422.9 134 425 133C427.1 132 429.8 132.3 432 132C434.2 131.7 436.8 132.3 438.3 131C439.8 129.7 439.8 126.3 440.8 124.2C441.8 122.1 443.1 120.1 444.2 118.3C445.3 116.5 446.2 114.7 447.5 113.3C448.8 111.9 450 111.2 451.7 110C453.4 108.8 456.2 107.5 457.5 105.8C458.8 104.1 458.6 101.8 459.2 100C459.8 98.2 459.6 97.1 460.8 95Z"/>
<path d="M390 305.5C391.3 304.1 393.8 305.2 397 305C400.2 304.8 405.8 304.6 409.5 304.4C413.2 304.2 416.6 303 419.5 303.8C422.4 304.5 424.5 306.9 427 308.8C429.5 310.6 432.4 312.9 434.5 315C436.6 317.1 438.2 318.8 439.5 321.2C440.8 323.8 441.4 327.1 442 330C442.6 332.9 442.6 335.8 443.2 338.8C443.9 341.7 444.9 344.6 445.8 347.5C446.6 350.4 447.2 353.2 448.2 356C449.3 358.8 450.8 361.3 452 364C453.2 366.7 454.4 369.3 455.5 372C456.6 374.7 457.8 377.5 458.5 380C459.2 382.5 460 385 459.5 387C459 389 457.4 391.4 455.5 392.2C453.6 393.1 450.5 393.3 448 392.2C445.5 391.2 443.2 388.3 440.5 386C437.8 383.7 434.6 380.7 432 378.3C429.4 375.9 427.6 373.9 425 371.7C422.4 369.5 419.5 367.5 416.7 365C413.9 362.5 410.5 359.5 408.3 356.7C406.1 353.9 405 351.4 403.3 348.3C401.6 345.2 400 341.4 398.3 338.3C396.6 335.2 394.7 332.8 393.3 330C391.9 327.2 390.7 324.5 390 321.7C389.3 318.9 389 316 389 313.3C389 310.6 388.7 306.9 390 305.5Z"/>
<path d="M611 373.5C611.4 371.6 613.1 369.5 614.8 368.5C616.4 367.5 619.8 366.6 621 367.2C622.2 367.9 622.9 370.2 622.2 372.2C621.6 374.3 618.9 378.5 617.2 379.8C615.6 381 613.3 380.8 612.2 379.8C611.2 378.7 610.6 375.4 611 373.5Z"/>
<path d="M470 103C470.8 100.8 470.4 98.3 471.5 96.7C472.6 95.1 474.2 93.5 476.7 93.3C479.2 93.1 483.6 95.5 486.7 95.8C489.8 96.1 492.8 94.6 495 95C497.2 95.4 498.3 98.6 500 98.3C501.7 98 503.3 94.8 505 93.3C506.7 91.8 507.5 90.3 510 89.2C512.5 88.1 516.7 87.5 520 86.7C523.3 85.9 526.7 84.9 530 84.2C533.3 83.5 537 82.7 540 82.5C543 82.3 546.1 82 548.3 83.3C550.5 84.5 551.6 87.5 553.3 90C555 92.5 556.3 95.5 558.3 98.3C560.2 101.1 563.2 103.6 565 106.7C566.8 109.8 568.2 113.4 569.2 116.7C570.2 120 570.7 123.7 570.8 126.7C570.9 129.8 570.5 132.4 570 135C569.5 137.6 567.9 139.7 567.5 142C567.1 144.3 566.8 146.5 567.5 148.7C568.2 150.9 569.6 153.4 571.7 155.3C573.8 157.2 577.3 159.3 580 160.3C582.7 161.3 585 160.9 588 161.2C591 161.6 594.9 161.9 598 162.5C601.1 163.1 604 163.8 606.8 165C609.5 166.2 612 168.1 614.2 170C616.5 171.9 618.8 173.8 620.5 176.2C622.2 178.8 623.4 182.2 624.2 185C625.1 187.8 625.4 190.7 625.5 193C625.6 195.3 625.6 197.2 625 198.7C624.4 200.2 623.7 201.6 621.7 202C619.8 202.4 616.1 201.8 613.3 201.2C610.5 200.6 608.3 199.2 605 198.3C601.7 197.4 597.5 196.5 593.3 196C589.1 195.5 584.7 195.5 580 195.5C575.3 195.5 569.4 196.5 565.3 196.2C561.2 195.9 557.8 195.2 555.3 193.7C552.8 192.2 551.7 189.5 550.3 187C548.9 184.5 547.3 181.5 547 178.7C546.7 175.9 548 172.8 548.7 170.3C549.4 167.8 551.8 165.6 551.2 163.7C550.6 161.8 547.7 159.4 545.3 158.7C542.9 158 540.3 158.8 537 159.5C533.7 160.2 528.9 163.2 525.3 162.8C521.7 162.4 518.3 159.1 515.3 157C512.2 154.9 509.8 152.8 507 150.3C504.2 147.8 501.2 144.7 498.7 142C496.2 139.3 494.1 135.3 492 134C489.9 132.7 487.7 133.3 486 134C484.3 134.7 482.9 136.9 482 138C481.1 139.1 481.4 138 480.8 140.3C480.2 142.6 479.1 147.8 478.3 152C477.5 156.2 476.6 160.9 475.8 165.3C475 169.8 474.1 174.8 473.3 178.7C472.5 182.6 471.8 186.1 470.8 188.7C469.8 191.3 468.8 193 467.5 194.5C466.2 196 465.4 197 463.3 197.8C461.2 198.6 458.3 199.1 455 199.5C451.7 199.9 447.2 200.2 443.3 200.3C439.4 200.4 435.6 200.6 431.7 200.3C427.8 200 423.6 199.5 420 198.7C416.4 197.9 412.8 196.6 410 195.3C407.2 194.1 405 192.6 403.3 191.2C401.6 189.8 400.3 188.5 400 187C399.7 185.5 400.3 183.7 401.7 182C403.1 180.3 406.2 178.9 408.3 177C410.4 175.1 412.5 173.1 414.2 170.3C415.9 167.5 417.1 164.2 418.3 160.3C419.6 156.4 420.6 150.4 421.7 147C422.8 143.6 423.4 141.7 425 140C426.6 138.3 429.2 138 431.5 137C433.8 136 436.9 135 439 134C441.1 133 442.9 132.5 444.2 131C445.5 129.5 445.6 126.8 446.7 125C447.8 123.2 449.3 121.4 450.8 120C452.3 118.6 454 117.5 455.8 116.7C457.6 115.9 459.9 116.1 461.7 115C463.5 113.9 465.3 112 466.7 110C468.1 108 469.2 105.2 470 103Z"/>
<path d="M414.5 320C415.4 318.7 417.8 318.1 419.5 318.1C421.2 318.1 423 318.6 424.5 320C426 321.4 426.8 324.2 428.2 326.2C429.7 328.3 431.8 330.2 433.2 332.5C434.7 334.8 436 337.5 437 340C438 342.5 438.7 344.8 439.5 347.5C440.3 350.2 440.9 353.2 442 356C443.1 358.8 445 361.5 446 364C447 366.5 447.9 369 448 371C448.1 373 447.7 374.9 446.5 376C445.3 377.1 443.1 377.5 441 377.5C438.9 377.5 436.4 377.2 434 376C431.6 374.8 429 372.4 426.7 370C424.4 367.6 422.2 364.8 420 361.7C417.8 358.6 415.5 355 413.3 351.7C411.1 348.4 408.3 344.1 406.7 341.7C405.1 339.2 403.7 338.2 403.5 337C403.3 335.8 404.5 335.1 405.8 334.5C407 333.9 409.1 334.1 410.8 333.5C412.4 332.9 415 332.2 415.5 331C416 329.8 414.2 327.8 414 326C413.8 324.2 413.6 321.3 414.5 320Z"/>
</g>
<g fill="none" stroke="#d8a0a0" stroke-width="0.45" stroke-dasharray="2 1.5" opacity="0.7">
<path d="M281 168C281.7 166.8 283 166.2 284 166.5C285 166.8 286.3 168.4 287 170C287.7 171.6 288.2 174.2 288 176C287.8 177.8 286.9 179.9 286 180.5C285.1 181.1 283.5 180.6 282.5 179.5C281.5 178.4 280.2 175.9 280 174C279.8 172.1 280.3 169.2 281 168Z"/>
<path d="M348 90C349.2 87.5 356.8 82.1 360.5 80C364.2 77.9 366.3 77.7 370.5 77.5C374.7 77.3 381.5 79.4 385.5 78.8C389.5 78.1 391.5 75.1 394.2 73.8C397 72.4 399.2 70.9 401.8 70.5C404.2 70.1 407.7 70.1 409.2 71.2C410.8 72.4 411.4 74.4 411 77.5C410.6 80.6 408.7 86.2 406.8 90C404.8 93.8 402 97.3 399.2 100C396.5 102.7 393.6 105.6 390.5 106.2C387.4 106.9 383.8 104.4 380.5 103.8C377.2 103.1 373.8 103.3 370.5 102.5C367.2 101.7 363.4 100 360.5 98.8C357.6 97.5 355.1 96.5 353 95C350.9 93.5 346.8 92.5 348 90Z"/>
<path d="M268.8 281.8C270 282.6 270.6 289.5 271.2 293C271.9 296.5 271.7 299.7 272.5 303C273.3 306.3 275.8 309.2 276.2 313C276.7 316.8 276 322.2 275 325.5C274 328.8 272.1 331.8 270 333C267.9 334.2 264.6 334.7 262.5 333C260.4 331.3 258.5 326.8 257.5 323C256.5 319.2 256 314.7 256.2 310.5C256.5 306.3 257.5 301.8 258.8 298C260 294.2 262.1 290.7 263.8 288C265.4 285.3 267.5 280.9 268.8 281.8Z"/>
<path d="M302.5 358.5C304 357 307.5 354.3 310 354.8C312.5 355.2 315 358.7 317.5 361C320 363.3 322.7 365.8 325 368.5C327.3 371.2 330.6 374.5 331.2 377.2C331.9 380 330.6 383.3 328.8 384.8C326.9 386.2 322.7 386.6 320 386C317.3 385.4 315 383.5 312.5 381C310 378.5 306.9 373.9 305 371C303.1 368.1 301.7 365.6 301.2 363.5C300.8 361.4 301 360 302.5 358.5Z"/>
<path d="M485.8 203.3C486.6 202.1 487.9 200.7 490 200C492.1 199.3 495.5 198.9 498.3 199.2C501.1 199.5 504.3 200.6 506.7 201.7C509.1 202.8 511.2 204.1 512.5 205.8C513.8 207.5 514.6 209.8 514.2 211.7C513.8 213.6 512.1 216.2 510 217.5C507.9 218.8 504.5 219.2 501.7 219.2C498.9 219.2 495.7 218.6 493.3 217.5C490.9 216.4 488.8 214.2 487.5 212.5C486.2 210.8 485.8 209 485.5 207.5C485.2 206 485.1 204.6 485.8 203.3Z"/>
<path d="M539.2 217.5C540.9 216.5 545.1 217.4 548.3 217.5C551.5 217.6 555 217.5 558.3 218.3C561.6 219.1 565.2 220.8 568.3 222.5C571.4 224.2 573.9 226.1 576.7 228.3C579.5 230.5 582.5 233.3 585 235.8C587.5 238.3 589.9 240.7 591.7 243.3C593.5 246 595.2 249.2 595.8 251.7C596.3 254.2 596 256.5 595 258.3C594 260.1 592 261.5 590 262.5C588 263.5 585.8 264 583.3 264.2C580.8 264.4 577.5 263.9 575 263.5C572.5 263.1 570.2 262.6 568.3 262C566.3 261.4 565.5 261.2 563.3 260C561.1 258.8 557.6 256.9 555 255C552.4 253.1 549.5 250.8 547.5 248.3C545.5 245.8 544.5 242.8 543.3 240C542 237.2 540.8 234.5 540 231.7C539.2 228.9 538.4 225.7 538.3 223.3C538.2 220.9 537.5 218.5 539.2 217.5Z"/>
<path d="M493.3 305C495.1 304.4 498.3 304.4 500 305.8C501.7 307.2 502.9 310.4 503.3 313.3C503.7 316.2 503.1 320.2 502.5 323.3C501.9 326.4 501.2 329.5 500 331.7C498.8 333.9 496.9 336.1 495 336.7C493.1 337.2 490 336.7 488.3 335C486.6 333.3 485.4 329.8 485 326.7C484.6 323.6 485.1 319.6 485.8 316.7C486.5 313.8 487.9 311.1 489.2 309.2C490.4 307.2 491.5 305.6 493.3 305Z"/>
<path d="M316 373.5C316.2 372.6 317.6 371.6 318.5 371.5C319.4 371.4 320.8 372.2 321.5 373C322.2 373.8 322.8 375.2 322.5 376C322.2 376.8 320.9 377.8 320 378C319.1 378.2 317.7 377.8 317 377C316.3 376.2 315.8 374.4 316 373.5Z"/>
<path d="M489.5 207C489.9 205.8 491.4 204.5 493 204C494.6 203.5 497 203.6 499 204C501 204.4 503.4 205.3 505 206.5C506.6 207.7 508.1 209.5 508.3 211C508.6 212.5 507.9 214.6 506.5 215.5C505.1 216.4 502.1 216.8 500 216.7C497.9 216.6 495.6 215.9 494 215C492.4 214.1 491.2 212.8 490.5 211.5C489.8 210.2 489.1 208.2 489.5 207Z"/>
<path d="M550 230C550.5 228.2 552.8 226.4 555 225.8C557.2 225.2 560.5 225.7 563.3 226.7C566.1 227.7 569.2 229.8 571.7 231.7C574.2 233.6 576.4 235.8 578.3 238.3C580.2 240.8 582.3 244.2 583.3 246.7C584.3 249.2 584.8 251.6 584.2 253.3C583.7 255 581.8 256.4 580 256.7C578.2 257 575.8 256.1 573.3 255C570.8 253.9 567.8 251.9 565 250C562.2 248.1 558.9 245.5 556.7 243.3C554.5 241.1 552.8 238.9 551.7 236.7C550.6 234.5 549.5 231.8 550 230Z"/>
<path d="M492.5 311.7C493.8 310.9 496.4 310.6 497.5 311.7C498.6 312.8 499.3 315.8 499.2 318.3C499.1 320.8 497.8 324.8 496.7 326.7C495.6 328.6 493.8 330.3 492.5 330C491.2 329.7 489.6 327.2 489.2 325C488.8 322.8 489.4 318.9 490 316.7C490.6 314.5 491.2 312.5 492.5 311.7Z"/>
</g>
<g fill="none" stroke="#000" stroke-width="0.75" stroke-linejoin="round">
<path d="M191.3 34L193.8 39.2L196.3 42.5L197.2 47.5L198.8 52.5L200.5 56.7L203 60L205.5 65L208.8 60.8L210.5 59.2L210.5 63.3L212.2 66.7L214.7 65.8L216.3 68.3L221.3 67.5L226.3 69.2L231.3 70.8L233.8 69.2L235.5 68.3L237.2 73.3L238 79.2L238.8 85L238 88.3L240.5 86.7L243.8 84.2L245.5 80.8L244.7 77.5L247.2 76.7L252.2 75L256.3 75.8L258 79.2L256.3 83.3L257.2 88.3L256.3 93.3L254.7 95.8L252.2 95L249.7 91.7L248 87.5L247.2 91.7L246.3 96.7L244.7 101.7L242.2 104.2L238.8 100.8L236.3 98.3L233 99.2L230.5 103.3L227.2 102.5L224.7 99.2L221.3 100L219.7 96.7L216.3 95L214.7 97.5L214.7 101.7L213.8 105.8L214.7 109.2L218 111.7L223 113.3L228 114.2L231.3 112.5L233.8 110.8L237.2 110.8L238.8 113.3L239.7 118.3L241.3 124.2L243.8 126.7L244.7 131.7L246.3 135.8L243.8 139.2L243 143.3L244.7 148.3L248 153.3L251.3 158.3L254.7 163.3L258 168.3L261.3 171.7L265 175L269.2 177.5L273.3 180L278.3 181.7L283.3 182.5L287.5 180L290 178.3L287.5 175.8L290 172.5L292.5 170.8L295 168.3L297.5 170.8L299.2 175L301.7 180L305 185L308.3 190L310.8 194.2L310 200L309.2 205.8L309.7 209.2L307.5 212.5L305.8 215.8L305.8 220L308.3 221.7L311.7 221.3L315 224.2L317.5 227.5L318.7 231.7L317.5 234.2L319.2 236.7L322.5 239.2L323.3 241.3L316.7 239.7L310 236.7L303.3 231.7L298.3 226.7L295 223.3L290 222.5L281.7 223.3L273.3 225L267.5 225.8L270 229.5L276.7 232.5L281.7 235.8L285.8 239.2L290 240L293.3 240.8L297.5 240L302.5 239.7L305.8 241.7L309.2 245L311.7 249.2L314.2 253.3L315 256.7L320 260.8L325 265L329.2 270L331.7 273.3L334.2 271.7L338.3 268.3L340 265.8L341.7 269.2L345.8 269.2L347.5 268.3L347.5 273.3L345.8 278.3L346.7 282.5L351.7 283.3L355 284.2L357.5 281.7L356.7 277.5L355.8 273.3L357.5 268.3L359.2 263.3L360 259.2L360.8 255.8L360 251.7L358.3 247.5L355.8 246.7L354.2 245L355 240.8L354.2 236.7L355 231.7L357.5 230L360 226.7L359.2 221.7L361.7 218.3L365 215L368.3 208.3L366.7 203.3L369.2 198.3L367.5 193.3L368.3 189.2L372 188.3"/>
<path d="M237.2 187.5L238.8 191.7"/>
<path d="M240.5 195L242.2 199"/>
<path d="M243.5 201.5L244.7 204.2"/>
<path d="M402 301.7L398.3 298.3L393.3 295L390 290L386.7 285.3L383.3 283L376.7 282L372.5 282.5L368.3 283.3L367.5 286.7L366.7 291.7L365.8 294.2L363.3 292L361.7 290L358.3 288.3L355.8 290.8L355.3 294.2L358.3 295.8L360.8 299.2L361.7 300.8L356.7 300.3L351.7 300.8L346.7 301.7L343.3 303.3L341.7 306.7L340.8 310.8L343.3 313.3L342.5 317.5L344.2 320.8L347.5 325L345.8 328.3L340.8 329.7L335.8 330L332.5 329.2L326.7 327.5L320 325L326.7 328.7L333.3 330.8L340 331.7L348.3 330.8L355 330L359.2 330.8L361.7 328.3L364.2 326.7L368.3 326.7L366.7 330L363.3 332.5L366.7 333.3L370 331.7L371.7 333.3L375 337.5L378.3 340L381.7 343.3L385 348.3L386.7 353.3L389.2 358.3L390.8 364.2L392.5 370.3L395 377L397.5 383.7L400 390.3L402.5 396.2L405 402L407.5 408.7L409.2 415.3L409.7 421"/>
<path d="M306.7 319.2L310 320.8L313.3 322.5"/>
<path d="M314.5 323L317 324"/>
<path d="M391.7 356.2L393.3 360.3L392 363.7"/>
<path d="M372 188.3L375 189.2L379.2 190L381.7 186.7L383.3 181.7L387.5 179.2L390.8 177.5L393.3 175L395 170L395.8 171.7L395 176.7L397.5 181.7L401.7 183.3L405.8 182.5L409.2 180.8L410.8 176.7L412.5 173.3L415.8 170L418.3 165L419.2 160L421.7 155L424.2 150.8L423.3 148.3L426.7 147.5L428.3 145L430.8 145.8L432.5 141.7L431.7 136.7L430 133.3L430 128.3L431.7 123.3L433.3 120.8L435 122.5L434.2 127.5L433.3 132.5L434.2 136.7L435 141.7L436.7 146.7L437.5 150.8L439.2 146.7L440.8 141.7L441.7 136.7L440 131.7L442.5 133.3L446.7 135.8L450.8 136.7L451.7 133.3L454.2 130.8L458.3 131.7L461.7 130.8L465 132.5L470 130L473.3 130L476.7 130.8L480 132.5L482.5 129.2L485.8 127.5L489.2 128.3L491.7 123.3L493.3 125L495 128.3L497.5 124.2L500 125.8L500.8 130L498.3 133.3L495 134.2L490.8 133.3L486.7 135.8L488.3 141.7L490.8 146.7L492.5 151.7L495 155L494.2 158.3L496.7 160.8L500.8 162.5L505 164.2L510 165L514.2 164.2L518.3 164.2L523.3 165L528.3 165L533.3 164.2L537.5 161.7L541.7 159.2L546.7 160L551.7 161.7L555 160L558.3 157.5L561.7 155L564.2 151.7L565 147.5L563.3 143.3L560.8 140L562.5 137.5L565.8 135.8L568.3 133.3L570 130.8L568.3 129.2L565 129.2L560.8 128.3L556.7 129.2L552.5 130L548.3 130.8L543.3 130.8L541 133.5L539 137L535 139.5L530 141L524 142.5L519 144L516 146L514.2 144.2L515.8 141L520 140L524.2 139L529.2 138L534.2 136.5L537.5 134.5L539.2 132"/>
<path d="M539.2 132L534.4 128.4L533.7 125.8L530.5 124.1L526 122.2L522.8 120.9L522 116.8L525.3 117.5L529.6 119.7L533.1 122.1L536.2 123L537.9 120.8L537.1 118.8L539.4 116.5L541.9 114.9L543.1 116.6L542.6 119.4L544.6 120.6L549.2 118.5L551.7 115.6L555.5 114.1L559.1 114.4L559.8 118L564.7 120.6L569.8 124.5L569.8 127.6L573.5 129.4L575.8 131.9L575.3 135.3L574.3 136.3L571.8 138.6L569.1 138.9L566.2 138.9L564 141.4L561.9 142.5L563.8 143.7L567 145.2L570.1 144.8L573.7 142.5L575.6 140.1L577.7 138.1L579.4 136.3L581.5 136.9L583.7 139.6L585.9 141.3L587.7 143.6L589.6 143.9L592.5 143.3L595.5 143.7L598.5 144.2L600.3 145.7L602.4 147.7L605.4 147L607.1 147.2L609.8 149.5L611.4 149.5L613.1 152.2L611.7 153.9L612.8 155.4L616.1 153L617.8 154.5L618.1 157.9L620.6 161.8L622.4 161.2L623.9 159.3L623.9 155L624.3 151.9L626.2 150L628.1 146.6L630.3 145.3L635.1 143.7L640.2 142.7L641.6 143.3L643.2 147.5L644.7 152.9L645.8 157.7L647.2 163.9L649.5 166.3L652.5 169.4L656.1 166.8"/>
<path d="M658.2 130.4L651.2 129L647.9 128L644.7 125.1L638.8 123.8L637.3 125.4L634.5 125.6L632.4 123.7L630.3 118.9L629.7 115.8L625.8 114.2L623.6 112.5L620.2 112L618.8 110.7L618.3 108L618.7 105.1L621.1 102.1L622.5 97.9L622.4 93.2L622.8 88.5L621.3 85.7L622.2 83.5L622.5 79.7L621.7 76.2L623.9 72.2L626.9 70.8L629.9 69.4L627.8 67.8L622.4 68L620.9 72L615.6 69.2L616.3 73.9L613.2 69.7L613.4 72.2L614.8 77.8L613 81.4L615.3 84L615.4 88.4L612.6 93.9L612.5 98.2L611.3 100.9L608.5 103L604.7 101.3L603.2 100.2L605.9 98.7L604.5 96.1L605.8 91.3L606.2 86.1L605.1 78.6L604.7 72.8L606.5 69.4L610.2 66.4L611.2 62.1L611.6 56.5L612.1 52.5L615.3 51.1L616.9 45.8L615.8 42.5L611.2 44.2L606.8 44.5L604.5 45.3L605.4 50.5L603.5 53.1L601.9 56.6L599.5 57.3L598.6 53.6L595 54.6L590.8 51.6L589.7 48.6L590.4 47.2L584.7 46.6L579.7 43.4L575.2 41.4L571.3 38L566.3 38.4L562.2 37.6L557.3 34.6L554.8 28.9L549.7 24.3L543.7 21.2L536.2 20.6L534 23.6L536.4 29.2L539.6 35.4L541.6 41.1L543 45.9L547.6 47.3L553.5 48L555 48.3L554.9 52.5L552.1 54.9L555.1 58.6L556.5 62.1L560.8 61.4L564.3 59.6L569.4 58.3L573.6 55.1L577.9 53.2L579.6 49.9L580 45.6L579.7 43.4"/>
<path d="M591.4 46.6L591.5 42.6L594.2 39.3L596.5 39.1L595.6 34.9L598.3 30.9L596.2 27.2L593.3 21.6L588.4 20.1L584.3 19.1L581.4 13.3L577.7 10.9L572.5 10.9L568.3 7.8L570.3 5.2L573.1 0.4L577.7 -3.9"/>
<path d="M652.8 90.8L647.9 87.3L646.4 82.1L650 81.6L652.4 78.4L657.2 75.6L662.2 76L661.5 72L662.1 68.1L658.7 60.7L655.7 52.3L657.4 44.6L654.4 34.1L651.2 29L645.6 28.9L641.5 32.8L633.3 30.9L628.9 25.2L624.4 15.9L620.4 9.5"/>
<path d="M511.9 27.5L507.9 31.5L501.6 33.7L494.3 34.2L487.5 33.1L489.1 26.2L497.3 23"/>
<path d="M402 301.7L402.9 304.1L406.8 308.8L411.3 308.3L414.1 309.8L419.4 308.6L423 306.8L425.9 311.1L429.4 313.6L433.5 312.3L437.2 315.3L441.1 317.3L442.2 320.9L446.9 321.8L451.2 322L454.2 325.8L455.3 320.2L460.4 319.9L464 316.5L469.6 318.3L470.3 314.8L473.4 314.8L472.8 309.3L469.5 305.7L468.5 301.3L469.7 298.6L473.1 300.6L475.9 304.3L475 308.5L480.7 311.1L486.7 314.8L485.3 309.9L486.8 305.7L486.3 302.4L490.2 299.6L493.3 301.8L494.3 306.5L497.4 308.3L496.8 312.9L493.5 316.4L490.8 316.3L492.5 320.5L492.8 324.4L492.4 328.1L483.9 332.2L489.8 331.8L487.6 336.2L486.9 342.9L486.8 347.8L489.1 354.4L490.6 354.9L496.4 359.2L501.1 359.8L508 359.3L514.2 359.9L522.6 358.5L525.4 356.8L528.7 361.5L531.2 365.6L535.5 367.5L539.9 369.3L542.2 368.9L542.2 364.1L538.9 360.5L533.4 355.6L535.5 349.4L535 343.9L531.7 340.4L525.3 338.1L523.8 333.5L519.3 329.3L515.3 323.1L516.5 321.1L520.4 320.3L522.8 317.7L527.7 317.7L532.8 316.7L536.5 319.6L540.1 322.6L545 322.3L546.7 317.1L544.3 312.8L543.4 309.6L547.9 310.6L553.8 312.3L558.9 313.4L562.5 314.9L568.1 315.4L572.2 313.7L576.6 314L580.5 312.5L584.9 311.9L588.3 313.7L589.4 318.3L588.2 324.4L588.7 330.5L582.4 338.7L576 345.2L577.5 350.9L576.8 358L577.3 365.2L577.3 368.6L578.3 362.8L578 356.8L580.2 349.5L583.9 344.5L586 345.1L586 351.2L588.3 350.1L591.5 352.4L595.5 354L598.1 352.5L601.9 350.2L604.7 347.4L603.5 343.1L601.1 340.4L605.4 341.4L606 345.7L606.7 348.1L604 355.6L603.2 360.6L603.2 366L599.1 365.3L598 361.9L598.8 356.4L596.7 356.4L595.3 361.8L593.3 364.8L594.5 368L592.2 371.8L591.3 375.6L591.1 378.6L592.2 382.5L593.7 384.7L596.6 385.5L597.2 383.6L598.4 384.5L597.1 387.2L595.1 389L593.5 391.9L590.7 396.5L593.5 395.5L595.1 392.6L591.7 398.3L590.9 399.8L592.9 402.9L593.4 408L590.5 408.3L593.1 409.6L595.2 413.4L596.2 418.8L591.8 416L587.9 411L591.8 416.7L595.1 420.3L597.8 420.9L602.3 423.7L604 425.9L602.1 431.5"/>
<path d="M480 218.3L482.5 215.8L486.7 217.5L490.8 219.2L495 220L500 219.2L505 220L510 220.8L514.2 220L518.3 221.7L523.3 222.5L528.3 224.2L530 227.5L533.3 226.7L535 230L537.5 235L540 239.2L543.3 243.3L545.8 248.3L547.5 253.3L550.8 255.8L555 257.5L559.2 259.2L563.3 261.7L567.5 264.2L570 266.7L569.2 270.8L566.7 275L564.2 278.3L558.3 278.3L553.3 276.7L548.3 275L543.3 274.2L538.3 275.8L533.3 273.3L528.3 270.8L525 267.5L521.7 265L517.5 264.2L513.3 265L508.3 263.3L503.3 261.7L498.3 260.8L493.3 261.7L488.3 263.3L484.2 266.7L481.7 265.8L480 263.3L478.3 258.3L477.5 253.3L475.8 248.3L475 243.3L473.3 238.3L471.7 233.3L470.8 228.3L473.3 225L476.7 222.5Z"/>
<path d="M546.7 208.3L550 205L554.2 205L557.5 208.3L559.2 213.3L558.3 218.3L555 221.7L552.5 224.2L550 222.5L550.8 219.2L548.3 217.5L546.7 213.3Z"/>
<path d="M478.3 186.7L481.7 184.2L485.8 186.7L484.2 190.8L481.7 194.2L479.2 192.5L480 190Z"/>
<path d="M379.2 204.2L382.5 202.5L385.3 205L385.8 208.3L383.3 210.8L380 210L378.7 206.7Z"/>
<path d="M377.5 215L380 214.2L380.8 216.7L378.7 218Z"/>
<path d="M371.7 206.7L375 205.3L376.7 207.5L374.2 209.2Z"/>
<path d="M411.7 184.2L414.2 180.8L417.5 181.7L419.2 185L422.5 184.2L425.8 183.3L426.7 185.8L424.2 188.3L421.7 190L418.3 188.3L415.8 187.5L413.3 186.7Z"/>
<path d="M440 168.3L440.8 165L444.2 163.3L448.3 160.8L452.5 157.5L455.8 152.5L457.5 146.7L456.7 141.7L459.2 143.3L461.7 148.3L460.8 154.2L458.3 159.2L454.2 162.5L450 165L445.8 166.7L442.5 169.2Z"/>
<path d="M444.2 183.3L446.7 180.8L450 181.7L450.8 185L447.5 186.7L445 185.8Z"/>
<path d="M453.3 182.5L456.7 181.7L458.3 184.2L455.8 185.8Z"/>
<path d="M566.5 132.8L565.3 134.4L567.3 135.5L569.7 135.5L570.4 134L570.2 132.2L568.4 132.1Z"/>
<path d="M559.7 141L558.6 142.7L559.9 142.1Z"/>
<path d="M548 126.8L549.9 125.3L552.5 125.4L551.6 126.5L549.2 127.4Z"/>
<path d="M538.7 122.1L539.3 120.7L542 121.4L541.6 122.9L539.7 123.1Z"/>
<path d="M573.9 174.4L575.5 178.8L579.1 179.1L581.9 178.7L584.9 178.6L586.3 176.7L589 175.8L590.8 175.2L589.2 173.5L592 172.8L591.6 168.9L593.7 166.5L596.9 165.3L598.7 168.9L601.2 168.7L604.4 167.6L606.8 168.6L606.1 165L606 162.1L607.4 162.9L609.2 165.2L614 167.1L614 165.5L612 162.9L610 161.6L608.8 158.4L607.1 155.8L605.1 152.3L603.4 149.7L601.1 149.4L601.2 152L599.3 151.2L595.4 151.1L594.3 153.2L595.1 156.1L592.6 157.5L590.7 159.3L589.5 162.5L587.3 164.6L584.9 167.4L585.5 170.3L583.3 170L580 169.3L577.2 169.9L578.2 173.9L579.2 175.1L577.3 175.3L574.8 174.1Z"/>
<path d="M592.2 179.6L591.7 176.6L593.9 174.2L597.1 174.6L600.3 173.6L603.6 172.8L605.7 173.1L609.1 177.7L611.5 181.1L609.2 183.8L605.9 182.5L602.8 182.1L602.5 184.9L599.2 185.4L597.7 181.7L595.4 182.4L593.3 181.8Z"/>
<path d="M560.6 188.4L561.8 187.4L563 188.2L561.8 189Z"/>
<path d="M562.6 173.7L565.3 172.8L566.8 172.9L564.8 174.2Z"/>
<path d="M629.3 70.4L638.2 80L639.9 77.7L638.5 72.3L636.9 66.9L634.1 68.6Z"/>
<path d="M631.8 100.4L635.5 103.2L639.1 100L643.1 97.5L640.6 93.7L636.2 95.6L632.3 98.3Z"/>
<path d="M623.8 105.3L627 106.4L630.2 104.7L631.2 101.3L627.9 102.1Z"/>
<path d="M615.9 35.2L613.7 31.7L608.2 26.3L613.1 29L617.1 34Z"/>
<path d="M576.8 6.5L580.2 6L585.4 5.4L586.9 9L583.3 8.7Z"/>
<path d="M591.1 314.7L592.3 320.1L596.6 320.6L598.9 320.6L602.3 315.9L605.6 317.1L607.8 315.3L611.6 316.6L615.9 320.2L613.1 322.1L611 321.7L610.4 325.7L607 326.4L604.3 330.6L601.1 335.4L599 333.1L596.9 329.2L594.5 325.7L591.9 321.7Z"/>
<path d="M581.7 341.8L586.7 338.1L590 337.8L585.4 341.2Z"/>
<path d="M593.5 350.1L599.8 346.3L600.7 349.2L596.3 351.5Z"/>
<path d="M477.8 286.2L482.2 285.1L485.3 281.9L490.9 283.8L497.1 284.4L503.8 284.2L508.6 285.6L513 287.5L520 286.2L524.8 286.7L527 291.9L522 295L517.8 295.5L525.6 295.7L529.4 299L534 302.1L530.8 304.3L526.3 305.7L533.1 305.8L533.1 307.9L528.1 310.4L522.1 311.6L515.6 311.8L510.2 315.4L508.3 311.8L512.9 307L511.3 302.3L508.4 298.9L502.6 297.3L495.8 296.3L492.5 297L488.8 298.3L487.1 301.4L483 300.1L478.7 299.7L475.9 296.1L474.5 290.8L475.8 287.7Z"/>
<path d="M495.2 317.5L502.2 317.5L506.5 320.2L505.8 323.9L499.2 326.8L495.2 325.7L495.3 321.6Z"/>
<path d="M507 325.9L510.8 325.1L512.6 326.7L507.3 328.4Z"/>
<path d="M513.9 321.2L517.2 321L516.7 323.2Z"/>
<path d="M436.5 305L438.3 299.3L443.5 297.3L448.8 299.3L453.9 297.9L456.9 304.2L463 308.9L463.5 314.3L458.2 317.1L451.6 317L445.2 319.6L440.3 317.3L438.2 311.8L445 309.3L440.7 306.6Z"/>
<path d="M430.7 305.6L427.2 301.4L430.4 295.2L434 291.8L438.7 293.1L439.9 298.5L435.3 302.6L433.7 304.7Z"/>
<path d="M444.7 292L440.1 289.7L440.3 285.3L447.6 282.6L452 284.8L452.6 289.1L449.3 290.8Z"/>
<path d="M435.1 283.9L437.6 280.7L441.6 278.7L440.4 283.1L437.7 285.1Z"/>
<path d="M454.7 287.9L454.7 282.1L459.1 280.6L460.8 284.7L459.3 287.8Z"/>
<path d="M462.5 284.6L465.5 283.1L466.4 285.6L464.7 287.6Z"/>
<path d="M480.6 280.4L478.9 276.7L468.9 278.8L463.2 278.4L461.5 281.3L468 285L469.8 286.2L476.3 283.5Z"/>
<path d="M465.9 290.5L471.4 288.4L473.4 292.3L473 297.3L468.9 298.8L466.8 294.9Z"/>
<path d="M463.6 292.2L460.3 294.4L458.5 298L463.8 302.7L466.4 301.5L465.7 296.1Z"/>
<path d="M466 311.3L471.6 310.7L472.7 314.1L468.7 315.3Z"/>
<path d="M468.4 277.6L476 274.4L476.8 270.1L475 263.2L473.5 258.8L472.7 253.5L470.9 247.8L469.2 244.4L464.6 246.2L461.8 248.6L459.2 253.9L458.3 259.1L462.4 261.5L464.9 264.7L464.9 268.1L466.8 272.1L467.4 276.7Z"/>
<path d="M465.4 270.3L464.9 267.2L462 262.2L457 259.6L456.3 263.6L458.4 267.5L461.8 270.9Z"/>
<path d="M452.3 274.5L452.5 270.5L456.1 271.4L456.4 275.9L453.6 276.5Z"/>
<path d="M459 275.1L458.6 270.7L461.8 271.9L462 275.1Z"/>
<path d="M444.5 279.6L445.3 275.7L447 274.3L447.2 277.3Z"/>
<path d="M173 34L175.5 39.2L178.8 44.2L182.2 47.5L183.8 45L183.5 40L182.2 34Z"/>
<path d="M190.5 103.3L193 101.7L196.3 102.5L198.8 105L200.5 104.2L203 104.2L203.8 107.5L205.5 110L204.7 113.3L202.2 115L200.5 113.3L198.8 112.5L196.3 111.7L193.8 110L191.3 107.5L189.7 105Z"/>
<path d="M194.7 117.5L197.2 116.7L199.7 117.5L198.8 120L196.3 120.8L198 124.2L199.7 125.8L198.8 128.3L196.3 127.5L194.7 125L193.8 121.7Z"/>
<path d="M207.2 116L207.2 120L206.3 126.7L203.8 133.3L204.7 138.3L208 142.5L211.3 145L208 146.7L208.8 151.7L211.3 155.8L215.5 159.2L221.3 161.7L225.5 163.3L229.7 164.2L233.8 164.2L235.5 166.7L231.3 167.5L226.3 166.7L221.3 167.5L217.2 167.5L213.8 165L209.7 161.7L204.7 159.2L200.5 156.7L196.3 154.2L195.5 150L197.2 146.7L196.3 141.7L198 138.3L196.3 135.8L193.8 133.3L193 130.8L196.3 129.2L198.8 130.8L200.5 128.3L198.8 125L196.3 123.3L195.5 120L198 117L202 114.5L205 113.5Z"/>
<path d="M233 168.3L235.5 170L239.7 173.3L244.7 173.3L246.3 175L243 176.7L239.7 179.2L237.2 182.5L236.3 185L233.8 185.8L232.2 182.5L231.3 178.3L228.8 176.7L227.2 174.2L229.7 172.5L232.2 170Z"/>
<path d="M248.3 176.7L252.5 176.7L256.7 178.3L261.7 180L268.3 181.7L275 184.2L281.7 185.8L287.5 186.7L288 188L281.7 187L273.3 185.3L265 183L258.3 181.3L253.3 180.5L250.8 181.3L249.2 179.7Z"/>
<path d="M333.5 87L335 86.5L336.5 90L337.5 96L338 103L337.5 110L336.3 111.5L336.3 105L335.5 98L334.3 92Z"/>
<path d="M344.2 287.5L346.7 289.2L345.8 291.7L344.2 290Z"/>
<path d="M366.7 258L368.7 257.3L370.3 258.7L369.2 260.8L367.2 260Z"/>
<path d="M348.3 335L351.7 334.2L355 335L354.2 337.5L350 338.3L347.5 337Z"/>
<path d="M399.2 397L402.5 396.2L407.5 400.3L412.5 405.3L415.3 410.3L415 414.5L412.5 412.8L409.2 408.7L405 404.5L400.8 400.3Z"/>
<path d="M390.8 377L393.3 378.7L394.2 382.8L392.5 387L390.8 382.8Z"/>
<path d="M424.2 327.8L428.3 326.2L431.7 324.5L435 325.3L434.2 328.7L436.7 329.5L435 332L430.8 331.2L430 334.5L426.7 333.7L425.8 330.3Z"/>
<path d="M436.7 352.8L440 350.3L441.7 347L444.2 348.7L446.7 347L450 345.3L453.3 344.5L451.7 347L448.3 349.5L445 351.2L442.5 353.7L439.2 353.7Z"/>
<path d="M450 362.8L452.5 360.3L455.8 359L458.3 359.5L456.7 361.7L453.3 363.3L450.8 364Z"/>
<path d="M471.3 364.5L473.3 363.3L474.2 367L473 371.2L471.3 370.3Z"/>
<path d="M485.8 381.2L490 382L494.2 387L496.7 390.3L497.5 394.5L495 395.3L491.7 391.2L488.3 387L485.8 383.7Z"/>
<path d="M480 386.2L483.3 387.8L486.7 392L490 395.3L491.7 397.8L489.2 397.8L485.8 394.5L482.5 390.3Z"/>
<path d="M515.4 121.8L513.8 117.9L515 114.8L518.8 114.5L520.6 116.9L519.2 119.9Z"/>
<path d="M505.3 121.2L504.9 117.8L507 114.2L509.3 113.4L508.9 117L508 120.2Z"/>
<path d="M543.1 46.5L540.5 49.7L536.2 52.5L532.1 50.9L535.7 50.5L537.8 48.8L538.7 46.4Z"/>
<path d="M517.5 407.2L520.1 402.9L522.4 398L524.9 392.5L530.1 390.4L536.3 391.6L539.9 395.3L539.7 397.7L534.7 399.3L532.1 401.7L528.1 399.8L525.2 403.4L521.6 405.5Z"/>
<path d="M540.9 399.9L536.8 403.3L535.5 408.5L537.1 413.4L538.7 418.3L542 422.5L544.1 423.2L545.6 419.5L542.2 413.7L540.3 407.7L541.7 403.5L542 400.4Z"/>
<path d="M543.1 398.1L547.3 396.8L550.9 394L557.3 394.1L558.9 397.2L555.9 398.6L556.3 402.6L556.9 407.7L552.5 406.2L550.4 405.6L549.2 402.2L545.3 400.4Z"/>
<path d="M567.8 401.7L566.5 405.1L564.4 410.3L560.6 415.2L556.8 415.6L558.9 412.5L562.4 407.2L565.3 404.1Z"/>
<path d="M564.5 401.5L564.9 399.4L567.9 395.4L571.4 390.8L574.1 392.6L571.2 396.7L567.3 399.6Z"/>
</g>
<mask id="om" maskUnits="userSpaceOnUse" x="0" y="0" width="792" height="612"><rect x="0" y="0" width="792" height="612" fill="#fff"/>
<g fill="#000" stroke="#000" stroke-width="0.6">
<path d="M191.3 34L193.8 39.2L196.3 42.5L197.2 47.5L198.8 52.5L200.5 56.7L203 60L205.5 65L208.8 60.8L210.5 59.2L210.5 63.3L212.2 66.7L214.7 65.8L216.3 68.3L221.3 67.5L226.3 69.2L231.3 70.8L233.8 69.2L235.5 68.3L237.2 73.3L238 79.2L238.8 85L238 88.3L240.5 86.7L243.8 84.2L245.5 80.8L244.7 77.5L247.2 76.7L252.2 75L256.3 75.8L258 79.2L256.3 83.3L257.2 88.3L256.3 93.3L254.7 95.8L252.2 95L249.7 91.7L248 87.5L247.2 91.7L246.3 96.7L244.7 101.7L242.2 104.2L238.8 100.8L236.3 98.3L233 99.2L230.5 103.3L227.2 102.5L224.7 99.2L221.3 100L219.7 96.7L216.3 95L214.7 97.5L214.7 101.7L213.8 105.8L214.7 109.2L218 111.7L223 113.3L228 114.2L231.3 112.5L233.8 110.8L237.2 110.8L238.8 113.3L239.7 118.3L241.3 124.2L243.8 126.7L244.7 131.7L246.3 135.8L243.8 139.2L243 143.3L244.7 148.3L248 153.3L251.3 158.3L254.7 163.3L258 168.3L261.3 171.7L265 175L269.2 177.5L273.3 180L278.3 181.7L283.3 182.5L287.5 180L290 178.3L287.5 175.8L290 172.5L292.5 170.8L295 168.3L297.5 170.8L299.2 175L301.7 180L305 185L308.3 190L310.8 194.2L310 200L309.2 205.8L309.7 209.2L307.5 212.5L305.8 215.8L305.8 220L308.3 221.7L311.7 221.3L315 224.2L317.5 227.5L318.7 231.7L317.5 234.2L319.2 236.7L322.5 239.2L323.3 241.3L316.7 239.7L310 236.7L303.3 231.7L298.3 226.7L295 223.3L290 222.5L281.7 223.3L273.3 225L267.5 225.8L270 229.5L276.7 232.5L281.7 235.8L285.8 239.2L290 240L293.3 240.8L297.5 240L302.5 239.7L305.8 241.7L309.2 245L311.7 249.2L314.2 253.3L315 256.7L320 260.8L325 265L329.2 270L331.7 273.3L334.2 271.7L338.3 268.3L340 265.8L341.7 269.2L345.8 269.2L347.5 268.3L347.5 273.3L345.8 278.3L346.7 282.5L351.7 283.3L355 284.2L357.5 281.7L356.7 277.5L355.8 273.3L357.5 268.3L359.2 263.3L360 259.2L360.8 255.8L360 251.7L358.3 247.5L355.8 246.7L354.2 245L355 240.8L354.2 236.7L355 231.7L357.5 230L360 226.7L359.2 221.7L361.7 218.3L365 215L368.3 208.3L366.7 203.3L369.2 198.3L367.5 193.3L368.3 189.2L372 188.3L375 189.2L379.2 190L381.7 186.7L383.3 181.7L387.5 179.2L390.8 177.5L393.3 175L395 170L395.8 171.7L395 176.7L397.5 181.7L401.7 183.3L405.8 182.5L409.2 180.8L410.8 176.7L412.5 173.3L415.8 170L418.3 165L419.2 160L421.7 155L424.2 150.8L423.3 148.3L426.7 147.5L428.3 145L430.8 145.8L432.5 141.7L431.7 136.7L430 133.3L430 128.3L431.7 123.3L433.3 120.8L435 122.5L434.2 127.5L433.3 132.5L434.2 136.7L435 141.7L436.7 146.7L437.5 150.8L439.2 146.7L440.8 141.7L441.7 136.7L440 131.7L442.5 133.3L446.7 135.8L450.8 136.7L451.7 133.3L454.2 130.8L458.3 131.7L461.7 130.8L465 132.5L470 130L473.3 130L476.7 130.8L480 132.5L482.5 129.2L485.8 127.5L489.2 128.3L491.7 123.3L493.3 125L495 128.3L497.5 124.2L500 125.8L500.8 130L498.3 133.3L495 134.2L490.8 133.3L486.7 135.8L488.3 141.7L490.8 146.7L492.5 151.7L495 155L494.2 158.3L496.7 160.8L500.8 162.5L505 164.2L510 165L514.2 164.2L518.3 164.2L523.3 165L528.3 165L533.3 164.2L537.5 161.7L541.7 159.2L546.7 160L551.7 161.7L555 160L558.3 157.5L561.7 155L564.2 151.7L565 147.5L563.3 143.3L560.8 140L562.5 137.5L565.8 135.8L568.3 133.3L570 130.8L568.3 129.2L565 129.2L560.8 128.3L556.7 129.2L552.5 130L548.3 130.8L543.3 130.8L541 133.5L539 137L535 139.5L530 141L524 142.5L519 144L516 146L514.2 144.2L515.8 141L520 140L524.2 139L529.2 138L534.2 136.5L537.5 134.5L539.2 132L534.4 128.4L533.7 125.8L530.5 124.1L526 122.2L522.8 120.9L522 116.8L525.3 117.5L529.6 119.7L533.1 122.1L536.2 123L537.9 120.8L537.1 118.8L539.4 116.5L541.9 114.9L543.1 116.6L542.6 119.4L544.6 120.6L549.2 118.5L551.7 115.6L555.5 114.1L559.1 114.4L559.8 118L564.7 120.6L569.8 124.5L569.8 127.6L573.5 129.4L575.8 131.9L575.3 135.3L574.3 136.3L571.8 138.6L569.1 138.9L566.2 138.9L564 141.4L561.9 142.5L563.8 143.7L567 145.2L570.1 144.8L573.7 142.5L575.6 140.1L577.7 138.1L579.4 136.3L581.5 136.9L583.7 139.6L585.9 141.3L587.7 143.6L589.6 143.9L592.5 143.3L595.5 143.7L598.5 144.2L600.3 145.7L602.4 147.7L605.4 147L607.1 147.2L609.8 149.5L611.4 149.5L613.1 152.2L611.7 153.9L612.8 155.4L616.1 153L617.8 154.5L618.1 157.9L620.6 161.8L622.4 161.2L623.9 159.3L623.9 155L624.3 151.9L626.2 150L628.1 146.6L630.3 145.3L635.1 143.7L640.2 142.7L641.6 143.3L643.2 147.5L644.7 152.9L645.8 157.7L647.2 163.9L649.5 166.3L652.5 169.4L656.1 166.8L700 175L700 125L658.2 130.4L651.2 129L647.9 128L644.7 125.1L638.8 123.8L637.3 125.4L634.5 125.6L632.4 123.7L630.3 118.9L629.7 115.8L625.8 114.2L623.6 112.5L620.2 112L618.8 110.7L618.3 108L618.7 105.1L621.1 102.1L622.5 97.9L622.4 93.2L622.8 88.5L621.3 85.7L622.2 83.5L622.5 79.7L621.7 76.2L623.9 72.2L626.9 70.8L629.9 69.4L627.8 67.8L622.4 68L620.9 72L615.6 69.2L616.3 73.9L613.2 69.7L613.4 72.2L614.8 77.8L613 81.4L615.3 84L615.4 88.4L612.6 93.9L612.5 98.2L611.3 100.9L608.5 103L604.7 101.3L603.2 100.2L605.9 98.7L604.5 96.1L605.8 91.3L606.2 86.1L605.1 78.6L604.7 72.8L606.5 69.4L610.2 66.4L611.2 62.1L611.6 56.5L612.1 52.5L615.3 51.1L616.9 45.8L615.8 42.5L611.2 44.2L606.8 44.5L604.5 45.3L605.4 50.5L603.5 53.1L601.9 56.6L599.5 57.3L598.6 53.6L595 54.6L590.8 51.6L589.7 48.6L590.4 47.2L584.7 46.6L579.7 43.4L590.4 47.2L591.4 46.6L591.5 42.6L594.2 39.3L596.5 39.1L595.6 34.9L598.3 30.9L596.2 27.2L593.3 21.6L588.4 20.1L584.3 19.1L581.4 13.3L577.7 10.9L572.5 10.9L568.3 7.8L570.3 5.2L573.1 0.4L577.7 -3.9L560 -20L191 -20Z"/>
<path d="M409.7 421L409.2 415.3L407.5 408.7L405 402L402.5 396.2L400 390.3L397.5 383.7L395 377L392.5 370.3L390.8 364.2L389.2 358.3L386.7 353.3L385 348.3L381.7 343.3L378.3 340L375 337.5L371.7 333.3L370 331.7L366.7 333.3L363.3 332.5L366.7 330L368.3 326.7L364.2 326.7L361.7 328.3L359.2 330.8L355 330L348.3 330.8L340 331.7L333.3 330.8L326.7 328.7L320 325L326.7 327.5L332.5 329.2L335.8 330L340.8 329.7L345.8 328.3L347.5 325L344.2 320.8L342.5 317.5L343.3 313.3L340.8 310.8L341.7 306.7L343.3 303.3L346.7 301.7L351.7 300.8L356.7 300.3L361.7 300.8L360.8 299.2L358.3 295.8L355.3 294.2L355.8 290.8L358.3 288.3L361.7 290L363.3 292L365.8 294.2L366.7 291.7L367.5 286.7L368.3 283.3L372.5 282.5L376.7 282L383.3 283L386.7 285.3L390 290L393.3 295L398.3 298.3L402 301.7L402.9 304.1L406.8 308.8L411.3 308.3L414.1 309.8L419.4 308.6L423 306.8L425.9 311.1L429.4 313.6L433.5 312.3L437.2 315.3L441.1 317.3L442.2 320.9L446.9 321.8L451.2 322L454.2 325.8L455.3 320.2L460.4 319.9L464 316.5L469.6 318.3L470.3 314.8L473.4 314.8L472.8 309.3L469.5 305.7L468.5 301.3L469.7 298.6L473.1 300.6L475.9 304.3L475 308.5L480.7 311.1L486.7 314.8L485.3 309.9L486.8 305.7L486.3 302.4L490.2 299.6L493.3 301.8L494.3 306.5L497.4 308.3L496.8 312.9L493.5 316.4L490.8 316.3L492.5 320.5L492.8 324.4L492.4 328.1L483.9 332.2L489.8 331.8L487.6 336.2L486.9 342.9L486.8 347.8L489.1 354.4L490.6 354.9L496.4 359.2L501.1 359.8L508 359.3L514.2 359.9L522.6 358.5L525.4 356.8L528.7 361.5L531.2 365.6L535.5 367.5L539.9 369.3L542.2 368.9L542.2 364.1L538.9 360.5L533.4 355.6L535.5 349.4L535 343.9L531.7 340.4L525.3 338.1L523.8 333.5L519.3 329.3L515.3 323.1L516.5 321.1L520.4 320.3L522.8 317.7L527.7 317.7L532.8 316.7L536.5 319.6L540.1 322.6L545 322.3L546.7 317.1L544.3 312.8L543.4 309.6L547.9 310.6L553.8 312.3L558.9 313.4L562.5 314.9L568.1 315.4L572.2 313.7L576.6 314L580.5 312.5L584.9 311.9L588.3 313.7L589.4 318.3L588.2 324.4L588.7 330.5L582.4 338.7L576 345.2L577.5 350.9L576.8 358L577.3 365.2L577.3 368.6L578.3 362.8L578 356.8L580.2 349.5L583.9 344.5L586 345.1L586 351.2L588.3 350.1L591.5 352.4L595.5 354L598.1 352.5L601.9 350.2L604.7 347.4L603.5 343.1L601.1 340.4L605.4 341.4L606 345.7L606.7 348.1L604 355.6L603.2 360.6L603.2 366L599.1 365.3L598 361.9L598.8 356.4L596.7 356.4L595.3 361.8L593.3 364.8L594.5 368L592.2 371.8L591.3 375.6L591.1 378.6L592.2 382.5L593.7 384.7L596.6 385.5L597.2 383.6L598.4 384.5L597.1 387.2L595.1 389L593.5 391.9L590.7 396.5L593.5 395.5L595.1 392.6L591.7 398.3L590.9 399.8L592.9 402.9L593.4 408L590.5 408.3L593.1 409.6L595.2 413.4L596.2 418.8L591.8 416L587.9 411L591.8 416.7L595.1 420.3L597.8 420.9L602.3 423.7L604 425.9L602.1 431.5L610 470L409 470Z"/>
<path d="M652.8 90.8L647.9 87.3L646.4 82.1L650 81.6L652.4 78.4L657.2 75.6L662.2 76L661.5 72L662.1 68.1L658.7 60.7L655.7 52.3L657.4 44.6L654.4 34.1L651.2 29L645.6 28.9L641.5 32.8L633.3 30.9L628.9 25.2L624.4 15.9L620.4 9.5L700 -20L700 90Z"/>
<path d="M480 218.3L482.5 215.8L486.7 217.5L490.8 219.2L495 220L500 219.2L505 220L510 220.8L514.2 220L518.3 221.7L523.3 222.5L528.3 224.2L530 227.5L533.3 226.7L535 230L537.5 235L540 239.2L543.3 243.3L545.8 248.3L547.5 253.3L550.8 255.8L555 257.5L559.2 259.2L563.3 261.7L567.5 264.2L570 266.7L569.2 270.8L566.7 275L564.2 278.3L558.3 278.3L553.3 276.7L548.3 275L543.3 274.2L538.3 275.8L533.3 273.3L528.3 270.8L525 267.5L521.7 265L517.5 264.2L513.3 265L508.3 263.3L503.3 261.7L498.3 260.8L493.3 261.7L488.3 263.3L484.2 266.7L481.7 265.8L480 263.3L478.3 258.3L477.5 253.3L475.8 248.3L475 243.3L473.3 238.3L471.7 233.3L470.8 228.3L473.3 225L476.7 222.5Z"/>
<path d="M546.7 208.3L550 205L554.2 205L557.5 208.3L559.2 213.3L558.3 218.3L555 221.7L552.5 224.2L550 222.5L550.8 219.2L548.3 217.5L546.7 213.3Z"/>
<path d="M478.3 186.7L481.7 184.2L485.8 186.7L484.2 190.8L481.7 194.2L479.2 192.5L480 190Z"/>
<path d="M379.2 204.2L382.5 202.5L385.3 205L385.8 208.3L383.3 210.8L380 210L378.7 206.7Z"/>
<path d="M377.5 215L380 214.2L380.8 216.7L378.7 218Z"/>
<path d="M371.7 206.7L375 205.3L376.7 207.5L374.2 209.2Z"/>
<path d="M411.7 184.2L414.2 180.8L417.5 181.7L419.2 185L422.5 184.2L425.8 183.3L426.7 185.8L424.2 188.3L421.7 190L418.3 188.3L415.8 187.5L413.3 186.7Z"/>
<path d="M440 168.3L440.8 165L444.2 163.3L448.3 160.8L452.5 157.5L455.8 152.5L457.5 146.7L456.7 141.7L459.2 143.3L461.7 148.3L460.8 154.2L458.3 159.2L454.2 162.5L450 165L445.8 166.7L442.5 169.2Z"/>
<path d="M444.2 183.3L446.7 180.8L450 181.7L450.8 185L447.5 186.7L445 185.8Z"/>
<path d="M453.3 182.5L456.7 181.7L458.3 184.2L455.8 185.8Z"/>
<path d="M566.5 132.8L565.3 134.4L567.3 135.5L569.7 135.5L570.4 134L570.2 132.2L568.4 132.1Z"/>
<path d="M559.7 141L558.6 142.7L559.9 142.1Z"/>
<path d="M548 126.8L549.9 125.3L552.5 125.4L551.6 126.5L549.2 127.4Z"/>
<path d="M538.7 122.1L539.3 120.7L542 121.4L541.6 122.9L539.7 123.1Z"/>
<path d="M573.9 174.4L575.5 178.8L579.1 179.1L581.9 178.7L584.9 178.6L586.3 176.7L589 175.8L590.8 175.2L589.2 173.5L592 172.8L591.6 168.9L593.7 166.5L596.9 165.3L598.7 168.9L601.2 168.7L604.4 167.6L606.8 168.6L606.1 165L606 162.1L607.4 162.9L609.2 165.2L614 167.1L614 165.5L612 162.9L610 161.6L608.8 158.4L607.1 155.8L605.1 152.3L603.4 149.7L601.1 149.4L601.2 152L599.3 151.2L595.4 151.1L594.3 153.2L595.1 156.1L592.6 157.5L590.7 159.3L589.5 162.5L587.3 164.6L584.9 167.4L585.5 170.3L583.3 170L580 169.3L577.2 169.9L578.2 173.9L579.2 175.1L577.3 175.3L574.8 174.1Z"/>
<path d="M592.2 179.6L591.7 176.6L593.9 174.2L597.1 174.6L600.3 173.6L603.6 172.8L605.7 173.1L609.1 177.7L611.5 181.1L609.2 183.8L605.9 182.5L602.8 182.1L602.5 184.9L599.2 185.4L597.7 181.7L595.4 182.4L593.3 181.8Z"/>
<path d="M560.6 188.4L561.8 187.4L563 188.2L561.8 189Z"/>
<path d="M562.6 173.7L565.3 172.8L566.8 172.9L564.8 174.2Z"/>
<path d="M629.3 70.4L638.2 80L639.9 77.7L638.5 72.3L636.9 66.9L634.1 68.6Z"/>
<path d="M631.8 100.4L635.5 103.2L639.1 100L643.1 97.5L640.6 93.7L636.2 95.6L632.3 98.3Z"/>
<path d="M623.8 105.3L627 106.4L630.2 104.7L631.2 101.3L627.9 102.1Z"/>
<path d="M615.9 35.2L613.7 31.7L608.2 26.3L613.1 29L617.1 34Z"/>
<path d="M576.8 6.5L580.2 6L585.4 5.4L586.9 9L583.3 8.7Z"/>
<path d="M591.1 314.7L592.3 320.1L596.6 320.6L598.9 320.6L602.3 315.9L605.6 317.1L607.8 315.3L611.6 316.6L615.9 320.2L613.1 322.1L611 321.7L610.4 325.7L607 326.4L604.3 330.6L601.1 335.4L599 333.1L596.9 329.2L594.5 325.7L591.9 321.7Z"/>
<path d="M581.7 341.8L586.7 338.1L590 337.8L585.4 341.2Z"/>
<path d="M593.5 350.1L599.8 346.3L600.7 349.2L596.3 351.5Z"/>
<path d="M477.8 286.2L482.2 285.1L485.3 281.9L490.9 283.8L497.1 284.4L503.8 284.2L508.6 285.6L513 287.5L520 286.2L524.8 286.7L527 291.9L522 295L517.8 295.5L525.6 295.7L529.4 299L534 302.1L530.8 304.3L526.3 305.7L533.1 305.8L533.1 307.9L528.1 310.4L522.1 311.6L515.6 311.8L510.2 315.4L508.3 311.8L512.9 307L511.3 302.3L508.4 298.9L502.6 297.3L495.8 296.3L492.5 297L488.8 298.3L487.1 301.4L483 300.1L478.7 299.7L475.9 296.1L474.5 290.8L475.8 287.7Z"/>
<path d="M495.2 317.5L502.2 317.5L506.5 320.2L505.8 323.9L499.2 326.8L495.2 325.7L495.3 321.6Z"/>
<path d="M507 325.9L510.8 325.1L512.6 326.7L507.3 328.4Z"/>
<path d="M513.9 321.2L517.2 321L516.7 323.2Z"/>
<path d="M436.5 305L438.3 299.3L443.5 297.3L448.8 299.3L453.9 297.9L456.9 304.2L463 308.9L463.5 314.3L458.2 317.1L451.6 317L445.2 319.6L440.3 317.3L438.2 311.8L445 309.3L440.7 306.6Z"/>
<path d="M430.7 305.6L427.2 301.4L430.4 295.2L434 291.8L438.7 293.1L439.9 298.5L435.3 302.6L433.7 304.7Z"/>
<path d="M444.7 292L440.1 289.7L440.3 285.3L447.6 282.6L452 284.8L452.6 289.1L449.3 290.8Z"/>
<path d="M435.1 283.9L437.6 280.7L441.6 278.7L440.4 283.1L437.7 285.1Z"/>
<path d="M454.7 287.9L454.7 282.1L459.1 280.6L460.8 284.7L459.3 287.8Z"/>
<path d="M462.5 284.6L465.5 283.1L466.4 285.6L464.7 287.6Z"/>
<path d="M480.6 280.4L478.9 276.7L468.9 278.8L463.2 278.4L461.5 281.3L468 285L469.8 286.2L476.3 283.5Z"/>
<path d="M465.9 290.5L471.4 288.4L473.4 292.3L473 297.3L468.9 298.8L466.8 294.9Z"/>
<path d="M463.6 292.2L460.3 294.4L458.5 298L463.8 302.7L466.4 301.5L465.7 296.1Z"/>
<path d="M466 311.3L471.6 310.7L472.7 314.1L468.7 315.3Z"/>
<path d="M468.4 277.6L476 274.4L476.8 270.1L475 263.2L473.5 258.8L472.7 253.5L470.9 247.8L469.2 244.4L464.6 246.2L461.8 248.6L459.2 253.9L458.3 259.1L462.4 261.5L464.9 264.7L464.9 268.1L466.8 272.1L467.4 276.7Z"/>
<path d="M465.4 270.3L464.9 267.2L462 262.2L457 259.6L456.3 263.6L458.4 267.5L461.8 270.9Z"/>
<path d="M452.3 274.5L452.5 270.5L456.1 271.4L456.4 275.9L453.6 276.5Z"/>
<path d="M459 275.1L458.6 270.7L461.8 271.9L462 275.1Z"/>
<path d="M444.5 279.6L445.3 275.7L447 274.3L447.2 277.3Z"/>
</g><g fill="#fff">
<path d="M579.7 43.4L575.2 41.4L571.3 38L566.3 38.4L562.2 37.6L557.3 34.6L554.8 28.9L549.7 24.3L543.7 21.2L536.2 20.6L534 23.6L536.4 29.2L539.6 35.4L541.6 41.1L543 45.9L547.6 47.3L553.5 48L555 48.3L554.9 52.5L552.1 54.9L555.1 58.6L556.5 62.1L560.8 61.4L564.3 59.6L569.4 58.3L573.6 55.1L577.9 53.2L579.6 49.9L580 45.6L579.7 43.4Z"/>
</g></mask>
<g mask="url(#om)" fill="none" stroke="#000" stroke-width="0.7" stroke-dasharray="3 4.5">
<circle cx="443.5" cy="224.3" r="43.5"/>
<circle cx="443.5" cy="224.3" r="87.6"/>
<circle cx="443.5" cy="224.3" r="133.2"/>
<circle cx="443.5" cy="224.3" r="180.9"/>
<circle cx="443.5" cy="224.3" r="231.8"/>
<circle cx="443.5" cy="224.3" r="286.9"/>
<circle cx="443.5" cy="224.3" r="348"/>
<path stroke-dashoffset="0" d="M444.4 223.9L827 53.3"/>
<path stroke-dashoffset="4.7" d="M463.4 210.9L791.5 -10.8"/>
<path stroke-dashoffset="1.9" d="M452.1 216L745.4 -67.6"/>
<path stroke-dashoffset="6.6" d="M444.1 223.5L690.1 -115.6"/>
<path stroke-dashoffset="3.8" d="M448.7 213.6L627.3 -153.3"/>
<path stroke-dashoffset="1" d="M450.1 201.3L559 -179.5"/>
<path stroke-dashoffset="5.7" d="M443.6 223.4L487.1 -193.4"/>
<path stroke-dashoffset="2.9" d="M441.8 200.4L413.9 -194.6"/>
<path stroke-dashoffset="0.1" d="M440.6 212.7L341.6 -183.1"/>
<path stroke-dashoffset="4.8" d="M443.1 223.4L272.4 -159.2"/>
<path stroke-dashoffset="2" d="M436.8 214.4L208.4 -123.7"/>
<path stroke-dashoffset="6.7" d="M426.8 207.1L151.5 -77.6"/>
<path stroke-dashoffset="3.9" d="M442.7 223.8L103.5 -22.3"/>
<path stroke-dashoffset="1.1" d="M421.9 213.8L65.8 40.5"/>
<path stroke-dashoffset="5.8" d="M431.9 221.1L39.7 108.9"/>
<path stroke-dashoffset="3" d="M442.5 224.2L25.7 180.7"/>
<path stroke-dashoffset="0.2" d="M431.5 225.2L24.5 253.9"/>
<path stroke-dashoffset="4.9" d="M420.2 230.2L36 326.2"/>
<path stroke-dashoffset="2.1" d="M442.6 224.8L59.9 395.4"/>
<path stroke-dashoffset="6.8" d="M423.6 237.8L95.4 459.5"/>
<path stroke-dashoffset="4" d="M434.8 232.7L141.6 516.3"/>
<path stroke-dashoffset="1.2" d="M442.9 225.2L196.8 564.3"/>
<path stroke-dashoffset="5.9" d="M438.2 235.1L259.6 602"/>
<path stroke-dashoffset="3.1" d="M436.9 247.4L328 628.2"/>
<path stroke-dashoffset="0.3" d="M443.4 225.3L399.9 642.1"/>
<path stroke-dashoffset="5" d="M445.2 248.3L473.1 643.3"/>
<path stroke-dashoffset="2.2" d="M446.4 236L545.4 631.8"/>
<path stroke-dashoffset="6.9" d="M443.9 225.3L614.6 607.9"/>
<path stroke-dashoffset="4.1" d="M450.2 234.3L678.6 572.4"/>
<path stroke-dashoffset="1.3" d="M460.2 241.6L735.4 526.3"/>
<path stroke-dashoffset="6" d="M444.3 224.9L783.4 471"/>
<path stroke-dashoffset="3.2" d="M465 234.9L821.1 408.2"/>
<path stroke-dashoffset="0.4" d="M455 227.6L847.3 339.8"/>
<path stroke-dashoffset="5.1" d="M444.5 224.5L861.2 268"/>
<path stroke-dashoffset="2.3" d="M455.4 223.5L862.4 194.8"/>
<path stroke-dashoffset="7" d="M466.8 218.5L850.9 122.5"/>
</g>
</g>
<rect x="143.5" y="35.5" width="509.5" height="384.5" fill="none" stroke="#000" stroke-width="1.4"/>
<g stroke="#000" stroke-width="1.15">
<path d="M132 109.2L143.5 109.2"/>
<path d="M132 193.2L143.5 193.2"/>
<path d="M132 272L143.5 272"/>
<path d="M132 358.2L143.5 358.2"/>
<path d="M653 54.3L664.5 54.3"/>
<path d="M653 130.9L664.5 130.9"/>
<path d="M653 191.2L664.5 191.2"/>
<path d="M653 246.4L664.5 246.4"/>
<path d="M653 305L664.5 305"/>
<path d="M653 376.6L664.5 376.6"/>
</g>
<rect x="149" y="495.3" width="45.6" height="34.4" fill="#000080"/>
<rect x="194.3" y="495.3" width="45.6" height="34.4" fill="#0000b3"/>
<rect x="239.6" y="495.3" width="45.6" height="34.4" fill="#0000e6"/>
<rect x="284.9" y="495.3" width="45.6" height="34.4" fill="#3333ff"/>
<rect x="330.2" y="495.3" width="45.6" height="34.4" fill="#9999ff"/>
<rect x="420.8" y="495.3" width="45.6" height="34.4" fill="#ff9999"/>
<rect x="466.1" y="495.3" width="45.6" height="34.4" fill="#ff3333"/>
<rect x="511.4" y="495.3" width="45.6" height="34.4" fill="#e60000"/>
<rect x="556.7" y="495.3" width="45.6" height="34.4" fill="#b30000"/>
<rect x="602" y="495.3" width="45.6" height="34.4" fill="#800000"/>
</svg>
<svg width="792" height="612" viewBox="0 0 792 612" style="position:absolute;left:0;top:0" font-family="'Liberation Sans', sans-serif" fill="#000">
<text x="121.5" y="114.8" font-size="15.7" text-anchor="end">135°E</text>
<text x="121.5" y="198.8" font-size="15.7" text-anchor="end">150°E</text>
<text x="121.5" y="277.6" font-size="15.7" text-anchor="end">165°E</text>
<text x="121.5" y="363.8" font-size="15.7" text-anchor="end">180°</text>
<text x="674" y="60.4" font-size="15.7">15°E</text>
<text x="674" y="137" font-size="15.7">0°</text>
<text x="674" y="197.3" font-size="15.7">15°W</text>
<text x="674" y="252.5" font-size="15.7">30°W</text>
<text x="674" y="311.1" font-size="15.7">45°W</text>
<text x="674" y="382.7" font-size="15.7">60°W</text>
<text x="523.6" y="439" font-size="14.1" font-weight="bold">MSLP</text>
<text x="523.6" y="454.8" font-size="14.1" font-weight="bold">Valid: 2006091212Z</text>
<text x="398" y="476.9" font-size="17.7" text-anchor="middle">Fraction - Binary Difference</text>
<text transform="translate(199.3 539.6) rotate(-90)" font-size="13.8" text-anchor="end">-20</text>
<text transform="translate(244.6 539.6) rotate(-90)" font-size="13.8" text-anchor="end">-16</text>
<text transform="translate(289.9 539.6) rotate(-90)" font-size="13.8" text-anchor="end">-12</text>
<text transform="translate(335.2 539.6) rotate(-90)" font-size="13.8" text-anchor="end">-8</text>
<text transform="translate(380.5 539.6) rotate(-90)" font-size="13.8" text-anchor="end">-4</text>
<text transform="translate(425.8 539.6) rotate(-90)" font-size="13.8" text-anchor="end">4</text>
<text transform="translate(471.1 539.6) rotate(-90)" font-size="13.8" text-anchor="end">8</text>
<text transform="translate(516.4 539.6) rotate(-90)" font-size="13.8" text-anchor="end">12</text>
<text transform="translate(561.7 539.6) rotate(-90)" font-size="13.8" text-anchor="end">16</text>
<text transform="translate(607 539.6) rotate(-90)" font-size="13.8" text-anchor="end">20</text>
</svg>
</body></html>
